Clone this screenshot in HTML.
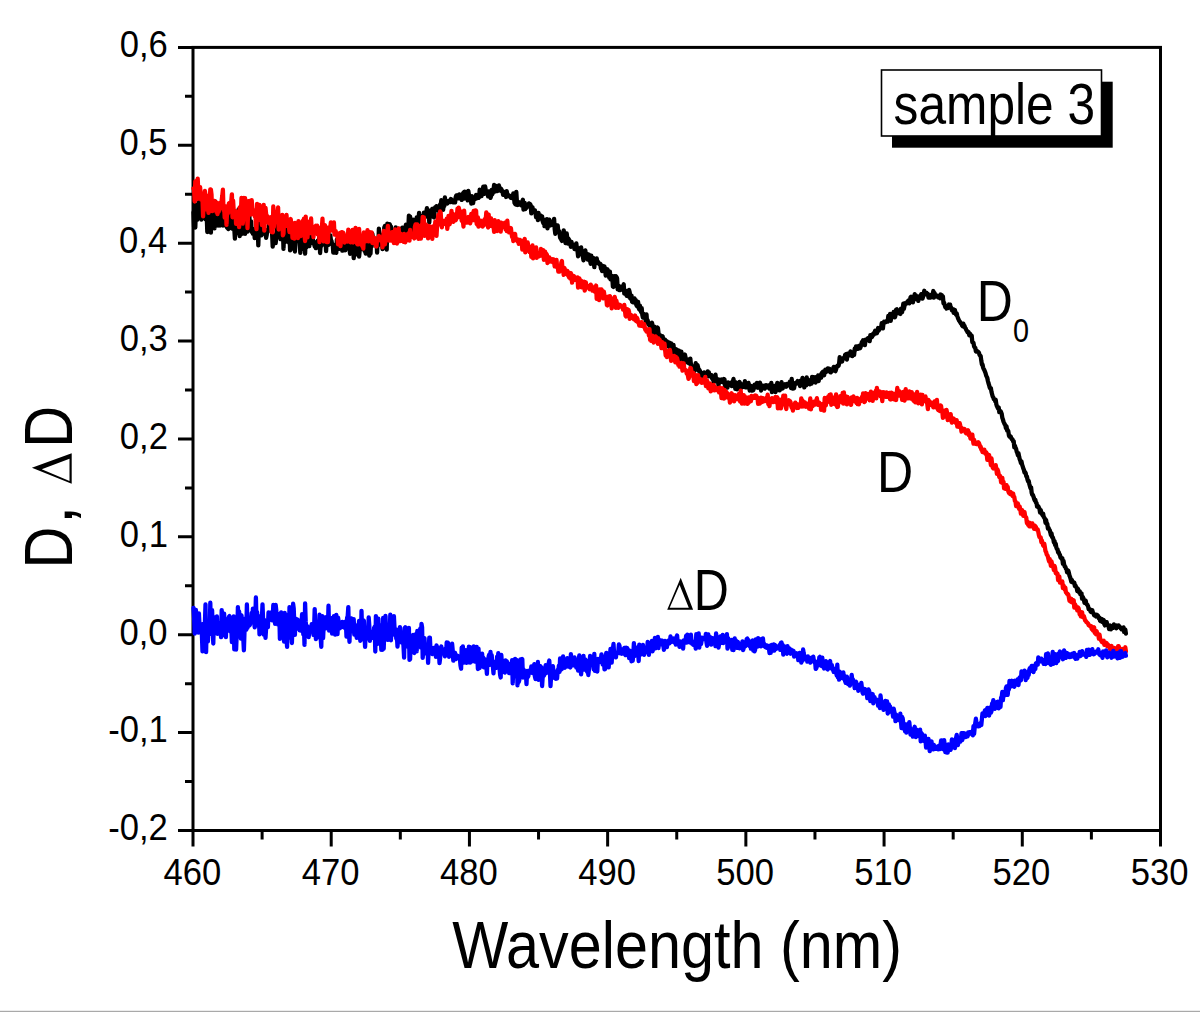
<!DOCTYPE html>
<html><head><meta charset="utf-8"><style>
html,body{margin:0;padding:0;background:#fff;}
body{width:1200px;height:1012px;overflow:hidden;position:relative;}
svg{position:absolute;left:0;top:0;}
text{font-family:"Liberation Sans",sans-serif;fill:#000;}
.bar{position:absolute;left:0;width:1200px;}
</style></head><body>
<svg width="1200" height="1012" viewBox="0 0 1200 1012">
<rect x="193.0" y="47.4" width="967.5" height="783.1" fill="none" stroke="#000" stroke-width="3"/>
<path d="M178.0,47.40H193.0 M185.0,96.34H193.0 M178.0,145.29H193.0 M185.0,194.23H193.0 M178.0,243.18H193.0 M185.0,292.12H193.0 M178.0,341.06H193.0 M185.0,390.01H193.0 M178.0,438.95H193.0 M185.0,487.89H193.0 M178.0,536.84H193.0 M185.0,585.78H193.0 M178.0,634.73H193.0 M185.0,683.67H193.0 M178.0,732.61H193.0 M185.0,781.56H193.0 M178.0,830.50H193.0 M193.00,830.5V846.5 M262.11,830.5V839.5 M331.21,830.5V846.5 M400.32,830.5V839.5 M469.43,830.5V846.5 M538.54,830.5V839.5 M607.64,830.5V846.5 M676.75,830.5V839.5 M745.86,830.5V846.5 M814.96,830.5V839.5 M884.07,830.5V846.5 M953.18,830.5V839.5 M1022.29,830.5V846.5 M1091.39,830.5V839.5 M1160.50,830.5V846.5" stroke="#000" stroke-width="3" fill="none"/>
<path d="M193.5,212.3 L194.1,227.5 L194.7,204.2 L195.3,227.5 L195.9,209.6 L196.5,211.7 L197.1,219.9 L197.7,211.8 L198.3,213.9 L198.9,196.5 L199.5,218.1 L200.1,214.2 L200.7,211.1 L201.3,219.5 L201.9,210.9 L202.5,213.6 L203.1,205.9 L203.7,213.1 L204.3,208.9 L204.9,210.7 L205.5,219.4 L206.1,211.4 L206.7,215.0 L207.3,232.0 L207.9,231.9 L208.5,219.4 L209.1,216.3 L209.7,212.2 L210.3,208.9 L210.9,232.7 L211.5,216.6 L212.1,207.3 L212.7,218.5 L213.3,221.9 L213.9,218.6 L214.5,228.4 L215.1,201.4 L215.7,217.8 L216.3,217.0 L216.9,204.8 L217.5,219.9 L218.1,225.6 L218.7,219.5 L219.3,214.3 L219.9,225.5 L220.5,218.7 L221.1,218.9 L221.7,223.3 L222.3,211.6 L222.9,225.5 L223.5,222.2 L224.1,224.8 L224.7,213.8 L225.3,225.5 L225.9,214.1 L226.5,209.1 L227.1,227.8 L227.7,228.2 L228.3,229.0 L228.9,220.4 L229.5,217.2 L230.1,205.4 L230.7,223.4 L231.3,225.1 L231.9,228.5 L232.5,218.7 L233.1,217.4 L233.7,224.6 L234.3,228.6 L234.9,238.7 L235.5,216.3 L236.1,223.5 L236.7,233.2 L237.3,223.3 L237.9,225.7 L238.5,209.5 L239.1,227.6 L239.7,236.1 L240.3,231.9 L240.9,234.5 L241.5,228.4 L242.1,222.3 L242.7,231.2 L243.3,222.0 L243.9,233.6 L244.5,215.5 L245.1,233.9 L245.7,221.6 L246.3,226.7 L246.9,226.0 L247.5,231.7 L248.1,223.2 L248.7,228.1 L249.3,214.8 L249.9,226.3 L250.5,229.1 L251.1,221.3 L251.7,231.9 L252.3,228.7 L252.9,233.7 L253.5,232.4 L254.1,229.6 L254.7,238.0 L255.3,232.3 L255.9,236.0 L256.5,228.5 L257.1,231.2 L257.7,225.5 L258.3,245.4 L258.9,226.9 L259.5,227.2 L260.1,220.3 L260.7,227.4 L261.3,235.3 L261.9,234.0 L262.5,223.7 L263.1,229.7 L263.7,230.4 L264.3,233.6 L264.9,231.0 L265.5,232.6 L266.1,237.8 L266.7,235.0 L267.3,230.0 L267.9,231.2 L268.5,230.2 L269.1,223.7 L269.7,227.1 L270.3,229.0 L270.9,229.7 L271.5,229.9 L272.1,233.4 L272.7,246.6 L273.3,237.1 L273.9,237.6 L274.5,237.0 L275.1,234.4 L275.7,243.0 L276.3,236.1 L276.9,233.7 L277.5,224.0 L278.1,233.9 L278.7,229.7 L279.3,227.3 L279.9,234.5 L280.5,239.1 L281.1,232.0 L281.7,239.0 L282.3,235.3 L282.9,228.9 L283.5,248.9 L284.1,234.4 L284.7,232.9 L285.3,242.0 L285.9,228.8 L286.5,239.4 L287.1,231.2 L287.7,235.2 L288.3,232.6 L288.9,242.6 L289.5,235.6 L290.1,250.3 L290.7,238.7 L291.3,239.9 L291.9,237.8 L292.5,235.3 L293.1,236.7 L293.7,248.9 L294.3,233.7 L294.9,251.5 L295.5,242.3 L296.1,237.2 L296.7,240.7 L297.3,237.8 L297.9,238.0 L298.5,239.6 L299.1,226.8 L299.7,239.8 L300.3,252.9 L300.9,237.5 L301.5,243.8 L302.1,240.0 L302.7,236.6 L303.3,248.9 L303.9,228.9 L304.5,239.0 L305.1,253.7 L305.7,238.7 L306.3,247.4 L306.9,243.2 L307.5,246.5 L308.1,243.8 L308.7,241.2 L309.3,246.1 L309.9,231.5 L310.5,242.5 L311.1,241.7 L311.7,242.8 L312.3,237.2 L312.9,239.6 L313.5,243.6 L314.1,241.9 L314.7,246.6 L315.3,244.0 L315.9,248.2 L316.5,245.5 L317.1,243.9 L317.7,240.8 L318.3,246.3 L318.9,240.3 L319.5,235.7 L320.1,253.0 L320.7,243.3 L321.3,246.0 L321.9,243.2 L322.5,243.9 L323.1,233.4 L323.7,239.4 L324.3,244.6 L324.9,243.5 L325.5,238.9 L326.1,251.2 L326.7,238.9 L327.3,243.1 L327.9,238.7 L328.5,244.9 L329.1,241.0 L329.7,238.6 L330.3,235.3 L330.9,240.1 L331.5,240.8 L332.1,244.4 L332.7,244.2 L333.3,252.6 L333.9,252.6 L334.5,248.3 L335.1,247.2 L335.7,249.7 L336.3,252.8 L336.9,239.3 L337.5,243.1 L338.1,246.7 L338.7,243.2 L339.3,248.9 L339.9,246.8 L340.5,246.9 L341.1,247.2 L341.7,244.1 L342.3,250.7 L342.9,249.8 L343.5,249.5 L344.1,241.1 L344.7,248.4 L345.3,250.3 L345.9,245.3 L346.5,248.1 L347.1,240.7 L347.7,243.2 L348.3,246.3 L348.9,248.4 L349.5,248.7 L350.1,253.8 L350.7,247.5 L351.3,240.3 L351.9,252.7 L352.5,241.9 L353.1,243.3 L353.7,258.2 L354.3,251.6 L354.9,247.7 L355.5,244.4 L356.1,248.2 L356.7,247.8 L357.3,254.3 L357.9,248.6 L358.5,242.4 L359.1,256.6 L359.7,250.4 L360.3,243.5 L360.9,243.0 L361.5,248.2 L362.1,241.5 L362.7,249.1 L363.3,248.6 L363.9,236.7 L364.5,250.8 L365.1,250.1 L365.7,253.7 L366.3,247.7 L366.9,247.7 L367.5,240.6 L368.1,233.8 L368.7,235.9 L369.3,255.7 L369.9,245.6 L370.5,253.7 L371.1,241.8 L371.7,246.3 L372.3,233.6 L372.9,237.4 L373.5,239.4 L374.1,242.3 L374.7,242.1 L375.3,241.2 L375.9,240.1 L376.5,241.3 L377.1,252.7 L377.7,239.5 L378.3,245.1 L378.9,228.6 L379.5,237.7 L380.1,239.3 L380.7,239.9 L381.3,234.9 L381.9,237.0 L382.5,249.1 L383.1,239.6 L383.7,238.6 L384.3,227.4 L384.9,226.1 L385.5,232.9 L386.1,230.6 L386.7,249.7 L387.3,223.7 L387.9,234.9 L388.5,225.7 L389.1,237.7 L389.7,224.2 L390.3,225.9 L390.9,226.5 L391.5,232.4 L392.1,236.1 L392.7,239.8 L393.3,231.8 L393.9,231.9 L394.5,239.7 L395.1,237.7 L395.7,227.4 L396.3,238.7 L396.9,239.3 L397.5,228.6 L398.1,235.0 L398.7,228.8 L399.3,229.6 L399.9,233.0 L400.5,233.0 L401.1,232.2 L401.7,232.6 L402.3,227.6 L402.9,235.6 L403.5,228.3 L404.1,239.6 L404.7,230.8 L405.3,227.9 L405.9,224.8 L406.5,229.6 L407.1,228.0 L407.7,230.5 L408.3,228.8 L408.9,215.7 L409.5,233.7 L410.1,216.7 L410.7,232.6 L411.3,231.7 L411.9,235.6 L412.5,227.7 L413.1,219.6 L413.7,224.1 L414.3,223.5 L414.9,225.1 L415.5,221.7 L416.1,224.7 L416.7,217.5 L417.3,219.7 L417.9,221.3 L418.5,219.6 L419.1,212.8 L419.7,232.1 L420.3,221.2 L420.9,223.8 L421.5,216.5 L422.1,228.0 L422.7,221.9 L423.3,228.7 L423.9,212.6 L424.5,216.1 L425.1,214.8 L425.7,216.6 L426.3,212.3 L426.9,208.2 L427.5,214.1 L428.1,215.1 L428.7,212.4 L429.3,222.5 L429.9,211.8 L430.5,210.4 L431.1,215.1 L431.7,211.1 L432.3,208.9 L432.9,208.7 L433.5,217.0 L434.1,217.4 L434.7,210.2 L435.3,207.2 L435.9,210.2 L436.5,206.2 L437.1,207.0 L437.7,208.1 L438.3,207.1 L438.9,206.6 L439.5,213.1 L440.1,204.5 L440.7,206.9 L441.3,200.2 L441.9,201.6 L442.5,202.8 L443.1,209.9 L443.7,205.0 L444.3,206.1 L444.9,197.5 L445.5,203.4 L446.1,202.1 L446.7,201.9 L447.3,203.5 L447.9,201.1 L448.5,202.2 L449.1,200.7 L449.7,201.5 L450.3,202.0 L450.9,199.0 L451.5,199.9 L452.1,200.6 L452.7,200.5 L453.3,202.4 L453.9,200.8 L454.5,200.0 L455.1,202.4 L455.7,197.1 L456.3,195.4 L456.9,198.0 L457.5,195.4 L458.1,198.2 L458.7,198.0 L459.3,194.4 L459.9,198.3 L460.5,197.0 L461.1,196.0 L461.7,199.9 L462.3,198.4 L462.9,193.5 L463.5,192.5 L464.1,198.5 L464.7,191.6 L465.3,195.8 L465.9,193.7 L466.5,194.5 L467.1,195.9 L467.7,200.4 L468.3,190.9 L468.9,194.6 L469.5,198.9 L470.1,197.5 L470.7,196.6 L471.3,203.5 L471.9,196.2 L472.5,198.7 L473.1,203.1 L473.7,198.9 L474.3,198.3 L474.9,198.3 L475.5,198.7 L476.1,194.8 L476.7,196.3 L477.3,197.2 L477.9,198.0 L478.5,197.9 L479.1,197.3 L479.7,189.6 L480.3,192.3 L480.9,192.6 L481.5,196.1 L482.1,192.2 L482.7,191.1 L483.3,186.6 L483.9,191.0 L484.5,193.9 L485.1,186.3 L485.7,189.8 L486.3,191.5 L486.9,192.9 L487.5,192.3 L488.1,196.4 L488.7,191.5 L489.3,194.0 L489.9,195.7 L490.5,197.9 L491.1,196.1 L491.7,189.8 L492.3,194.1 L492.9,192.6 L493.5,190.8 L494.1,185.0 L494.7,187.8 L495.3,191.5 L495.9,185.9 L496.5,188.7 L497.1,188.1 L497.7,191.0 L498.3,188.6 L498.9,185.4 L499.5,188.4 L500.1,188.1 L500.7,190.8 L501.3,189.0 L501.9,191.6 L502.5,191.2 L503.1,194.9 L503.7,193.4 L504.3,192.0 L504.9,192.8 L505.5,193.2 L506.1,197.0 L506.7,191.1 L507.3,194.2 L507.9,195.2 L508.5,195.1 L509.1,196.4 L509.7,196.3 L510.3,196.1 L510.9,197.8 L511.5,195.6 L512.1,197.3 L512.7,198.3 L513.3,193.4 L513.9,195.8 L514.5,202.7 L515.1,203.9 L515.7,204.5 L516.3,191.8 L516.9,201.7 L517.5,205.0 L518.1,204.5 L518.7,202.2 L519.3,202.5 L519.9,203.5 L520.5,202.8 L521.1,205.2 L521.7,203.4 L522.3,201.7 L522.9,199.7 L523.5,209.5 L524.1,207.2 L524.7,202.9 L525.3,209.1 L525.9,205.2 L526.5,207.9 L527.1,206.5 L527.7,205.6 L528.3,205.4 L528.9,203.4 L529.5,203.9 L530.1,204.1 L530.7,205.2 L531.3,213.4 L531.9,210.8 L532.5,207.4 L533.1,211.6 L533.7,212.1 L534.3,212.3 L534.9,210.2 L535.5,212.7 L536.1,217.2 L536.7,213.1 L537.3,214.2 L537.9,220.0 L538.5,212.9 L539.1,217.0 L539.7,215.7 L540.3,218.5 L540.9,215.6 L541.5,217.2 L542.1,216.5 L542.7,221.4 L543.3,223.1 L543.9,219.5 L544.5,226.2 L545.1,221.2 L545.7,222.9 L546.3,224.6 L546.9,219.1 L547.5,228.3 L548.1,220.9 L548.7,222.0 L549.3,219.7 L549.9,225.7 L550.5,222.2 L551.1,225.1 L551.7,221.9 L552.3,223.6 L552.9,224.3 L553.5,223.4 L554.1,218.9 L554.7,228.9 L555.3,233.8 L555.9,226.0 L556.5,225.8 L557.1,228.6 L557.7,225.4 L558.3,232.0 L558.9,230.9 L559.5,232.8 L560.1,237.8 L560.7,237.4 L561.3,239.7 L561.9,240.9 L562.5,236.6 L563.1,236.8 L563.7,230.3 L564.3,233.8 L564.9,239.0 L565.5,243.0 L566.1,239.7 L566.7,233.4 L567.3,238.6 L567.9,243.5 L568.5,238.7 L569.1,239.8 L569.7,241.3 L570.3,243.9 L570.9,246.8 L571.5,241.9 L572.1,245.2 L572.7,245.2 L573.3,245.2 L573.9,246.4 L574.5,249.1 L575.1,244.6 L575.7,247.3 L576.3,243.3 L576.9,248.3 L577.5,251.1 L578.1,256.3 L578.7,249.4 L579.3,248.6 L579.9,250.9 L580.5,250.1 L581.1,247.4 L581.7,252.0 L582.3,254.8 L582.9,256.9 L583.5,260.3 L584.1,252.8 L584.7,252.2 L585.3,250.4 L585.9,254.6 L586.5,258.0 L587.1,253.8 L587.7,259.6 L588.3,258.3 L588.9,254.7 L589.5,258.5 L590.1,260.8 L590.7,263.9 L591.3,255.6 L591.9,261.9 L592.5,261.6 L593.1,257.8 L593.7,258.7 L594.3,267.2 L594.9,260.0 L595.5,259.7 L596.1,263.2 L596.7,258.3 L597.3,262.2 L597.9,261.7 L598.5,263.2 L599.1,264.0 L599.7,264.6 L600.3,263.7 L600.9,268.5 L601.5,268.0 L602.1,271.1 L602.7,265.9 L603.3,268.6 L603.9,267.1 L604.5,266.6 L605.1,269.8 L605.7,275.6 L606.3,272.7 L606.9,269.2 L607.5,269.4 L608.1,274.6 L608.7,274.8 L609.3,277.7 L609.9,271.7 L610.5,279.4 L611.1,276.4 L611.7,276.0 L612.3,277.5 L612.9,286.5 L613.5,286.9 L614.1,276.1 L614.7,280.5 L615.3,284.2 L615.9,276.2 L616.5,277.0 L617.1,278.3 L617.7,289.4 L618.3,285.5 L618.9,286.1 L619.5,290.1 L620.1,286.7 L620.7,290.0 L621.3,287.6 L621.9,287.3 L622.5,288.3 L623.1,286.2 L623.7,284.3 L624.3,293.5 L624.9,293.7 L625.5,290.5 L626.1,292.8 L626.7,295.7 L627.3,292.3 L627.9,295.2 L628.5,296.4 L629.1,290.0 L629.7,292.3 L630.3,298.5 L630.9,298.8 L631.5,295.5 L632.1,301.8 L632.7,302.2 L633.3,299.6 L633.9,300.4 L634.5,298.4 L635.1,302.8 L635.7,300.1 L636.3,304.9 L636.9,306.2 L637.5,306.5 L638.1,302.0 L638.7,308.0 L639.3,309.6 L639.9,305.6 L640.5,309.7 L641.1,312.1 L641.7,308.2 L642.3,314.9 L642.9,317.6 L643.5,314.3 L644.1,317.3 L644.7,314.3 L645.3,317.7 L645.9,322.1 L646.5,314.3 L647.1,322.7 L647.7,320.3 L648.3,324.3 L648.9,323.8 L649.5,325.6 L650.1,324.0 L650.7,324.9 L651.3,329.4 L651.9,322.7 L652.5,324.8 L653.1,332.8 L653.7,331.8 L654.3,326.7 L654.9,334.7 L655.5,329.2 L656.1,334.0 L656.7,334.9 L657.3,327.4 L657.9,328.0 L658.5,332.9 L659.1,338.2 L659.7,336.7 L660.3,335.2 L660.9,338.8 L661.5,336.1 L662.1,337.0 L662.7,336.4 L663.3,343.8 L663.9,341.4 L664.5,340.1 L665.1,339.7 L665.7,346.6 L666.3,341.8 L666.9,341.2 L667.5,343.2 L668.1,345.3 L668.7,346.3 L669.3,342.5 L669.9,350.4 L670.5,347.6 L671.1,343.4 L671.7,350.2 L672.3,353.7 L672.9,351.6 L673.5,345.0 L674.1,350.6 L674.7,351.7 L675.3,354.9 L675.9,352.5 L676.5,349.3 L677.1,357.3 L677.7,358.3 L678.3,354.3 L678.9,350.5 L679.5,357.4 L680.1,357.0 L680.7,361.2 L681.3,351.6 L681.9,356.8 L682.5,356.5 L683.1,355.0 L683.7,359.7 L684.3,358.2 L684.9,354.5 L685.5,357.3 L686.1,362.1 L686.7,361.2 L687.3,359.6 L687.9,362.7 L688.5,359.6 L689.1,363.4 L689.7,363.8 L690.3,358.6 L690.9,364.2 L691.5,365.8 L692.1,366.6 L692.7,366.7 L693.3,369.0 L693.9,368.1 L694.5,370.8 L695.1,367.3 L695.7,363.2 L696.3,366.8 L696.9,368.2 L697.5,365.0 L698.1,367.3 L698.7,370.8 L699.3,369.9 L699.9,370.7 L700.5,373.6 L701.1,375.2 L701.7,375.8 L702.3,373.2 L702.9,375.4 L703.5,377.0 L704.1,372.5 L704.7,373.3 L705.3,376.0 L705.9,374.4 L706.5,374.0 L707.1,375.5 L707.7,371.3 L708.3,376.3 L708.9,372.3 L709.5,375.7 L710.1,375.7 L710.7,376.7 L711.3,375.1 L711.9,377.9 L712.5,379.2 L713.1,377.8 L713.7,382.5 L714.3,381.4 L714.9,378.3 L715.5,374.6 L716.1,381.2 L716.7,378.5 L717.3,379.3 L717.9,380.6 L718.5,385.4 L719.1,379.6 L719.7,380.6 L720.3,381.5 L720.9,381.9 L721.5,379.5 L722.1,381.8 L722.7,381.7 L723.3,382.4 L723.9,379.0 L724.5,379.3 L725.1,387.1 L725.7,384.2 L726.3,384.5 L726.9,386.5 L727.5,387.6 L728.1,382.4 L728.7,384.4 L729.3,383.8 L729.9,383.6 L730.5,384.3 L731.1,382.7 L731.7,386.1 L732.3,383.3 L732.9,381.5 L733.5,378.9 L734.1,384.6 L734.7,382.6 L735.3,388.9 L735.9,382.5 L736.5,383.5 L737.1,389.4 L737.7,384.6 L738.3,388.2 L738.9,386.3 L739.5,382.0 L740.1,383.3 L740.7,384.5 L741.3,387.8 L741.9,384.3 L742.5,385.1 L743.1,385.2 L743.7,384.6 L744.3,387.1 L744.9,381.2 L745.5,384.0 L746.1,387.5 L746.7,386.0 L747.3,385.5 L747.9,384.9 L748.5,382.9 L749.1,385.3 L749.7,390.5 L750.3,385.9 L750.9,385.8 L751.5,390.5 L752.1,388.3 L752.7,390.5 L753.3,390.1 L753.9,386.3 L754.5,384.6 L755.1,386.1 L755.7,384.8 L756.3,387.4 L756.9,383.0 L757.5,385.4 L758.1,387.7 L758.7,385.4 L759.3,386.1 L759.9,382.6 L760.5,384.8 L761.1,390.5 L761.7,386.7 L762.3,385.5 L762.9,386.3 L763.5,387.8 L764.1,388.0 L764.7,388.5 L765.3,385.5 L765.9,385.2 L766.5,387.4 L767.1,387.0 L767.7,387.2 L768.3,385.4 L768.9,386.3 L769.5,388.6 L770.1,386.7 L770.7,388.8 L771.3,382.9 L771.9,392.1 L772.5,385.8 L773.1,387.4 L773.7,390.9 L774.3,386.0 L774.9,385.7 L775.5,392.1 L776.1,390.2 L776.7,387.1 L777.3,382.8 L777.9,387.2 L778.5,385.4 L779.1,385.0 L779.7,390.4 L780.3,387.0 L780.9,386.1 L781.5,382.2 L782.1,385.5 L782.7,388.5 L783.3,384.9 L783.9,384.9 L784.5,386.1 L785.1,384.2 L785.7,385.6 L786.3,386.7 L786.9,384.0 L787.5,384.9 L788.1,385.2 L788.7,384.1 L789.3,383.1 L789.9,381.7 L790.5,384.6 L791.1,388.2 L791.7,379.0 L792.3,386.3 L792.9,388.6 L793.5,383.6 L794.1,388.3 L794.7,384.1 L795.3,383.1 L795.9,382.7 L796.5,382.6 L797.1,383.5 L797.7,381.0 L798.3,383.4 L798.9,382.2 L799.5,382.9 L800.1,386.1 L800.7,380.6 L801.3,381.7 L801.9,381.0 L802.5,377.9 L803.1,382.8 L803.7,382.9 L804.3,387.4 L804.9,382.9 L805.5,382.0 L806.1,385.5 L806.7,377.4 L807.3,381.3 L807.9,383.5 L808.5,380.0 L809.1,381.5 L809.7,384.3 L810.3,381.1 L810.9,379.9 L811.5,383.7 L812.1,376.8 L812.7,382.2 L813.3,378.5 L813.9,377.2 L814.5,378.4 L815.1,377.9 L815.7,382.5 L816.3,378.7 L816.9,376.9 L817.5,377.0 L818.1,375.6 L818.7,381.0 L819.3,375.4 L819.9,378.3 L820.5,375.6 L821.1,377.6 L821.7,373.0 L822.3,372.6 L822.9,371.8 L823.5,373.6 L824.1,375.3 L824.7,372.2 L825.3,369.8 L825.9,372.0 L826.5,371.3 L827.1,370.3 L827.7,368.4 L828.3,369.0 L828.9,371.3 L829.5,368.8 L830.1,370.8 L830.7,372.4 L831.3,371.6 L831.9,371.5 L832.5,370.1 L833.1,368.9 L833.7,366.9 L834.3,367.5 L834.9,370.6 L835.5,371.1 L836.1,369.3 L836.7,366.7 L837.3,366.0 L837.9,365.5 L838.5,365.9 L839.1,363.6 L839.7,357.2 L840.3,360.6 L840.9,358.4 L841.5,361.7 L842.1,361.5 L842.7,358.5 L843.3,358.8 L843.9,357.9 L844.5,358.3 L845.1,354.9 L845.7,354.4 L846.3,356.7 L846.9,359.6 L847.5,353.6 L848.1,355.0 L848.7,354.7 L849.3,353.8 L849.9,355.2 L850.5,351.3 L851.1,352.6 L851.7,352.3 L852.3,356.1 L852.9,352.4 L853.5,352.0 L854.1,355.0 L854.7,348.7 L855.3,350.0 L855.9,346.5 L856.5,346.5 L857.1,348.6 L857.7,348.8 L858.3,346.9 L858.9,345.9 L859.5,346.4 L860.1,348.3 L860.7,346.7 L861.3,344.4 L861.9,341.9 L862.5,343.1 L863.1,340.3 L863.7,344.1 L864.3,340.1 L864.9,345.2 L865.5,339.8 L866.1,339.4 L866.7,339.5 L867.3,339.9 L867.9,338.2 L868.5,338.1 L869.1,340.9 L869.7,341.1 L870.3,335.2 L870.9,336.3 L871.5,335.5 L872.1,336.9 L872.7,335.1 L873.3,333.4 L873.9,334.5 L874.5,333.0 L875.1,330.8 L875.7,333.2 L876.3,331.2 L876.9,333.2 L877.5,331.0 L878.1,328.0 L878.7,330.6 L879.3,329.3 L879.9,328.7 L880.5,327.6 L881.1,327.9 L881.7,323.2 L882.3,325.8 L882.9,328.4 L883.5,323.0 L884.1,321.7 L884.7,322.7 L885.3,322.4 L885.9,321.3 L886.5,321.1 L887.1,321.3 L887.7,321.5 L888.3,315.9 L888.9,318.6 L889.5,318.9 L890.1,313.8 L890.7,320.9 L891.3,317.3 L891.9,316.3 L892.5,315.8 L893.1,313.7 L893.7,312.0 L894.3,315.5 L894.9,317.3 L895.5,315.4 L896.1,309.6 L896.7,309.3 L897.3,312.9 L897.9,312.6 L898.5,312.1 L899.1,313.3 L899.7,313.0 L900.3,313.9 L900.9,308.7 L901.5,308.7 L902.1,312.1 L902.7,308.4 L903.3,303.7 L903.9,308.8 L904.5,305.9 L905.1,303.3 L905.7,303.5 L906.3,303.5 L906.9,303.0 L907.5,301.5 L908.1,302.0 L908.7,300.4 L909.3,303.4 L909.9,301.2 L910.5,297.4 L911.1,296.7 L911.7,300.7 L912.3,299.1 L912.9,302.4 L913.5,298.2 L914.1,296.7 L914.7,294.2 L915.3,299.1 L915.9,295.3 L916.5,298.3 L917.1,298.0 L917.7,298.7 L918.3,300.9 L918.9,296.5 L919.5,297.5 L920.1,298.4 L920.7,295.7 L921.3,294.1 L921.9,294.3 L922.5,298.6 L923.1,296.6 L923.7,293.6 L924.3,290.8 L924.9,294.5 L925.5,293.5 L926.1,293.1 L926.7,293.0 L927.3,294.4 L927.9,294.0 L928.5,297.7 L929.1,295.0 L929.7,297.2 L930.3,297.6 L930.9,297.2 L931.5,294.8 L932.1,295.0 L932.7,294.8 L933.3,291.0 L933.9,297.7 L934.5,292.9 L935.1,294.7 L935.7,295.4 L936.3,296.2 L936.9,295.4 L937.5,296.0 L938.1,297.2 L938.7,296.4 L939.3,296.8 L939.9,298.2 L940.5,294.5 L941.1,297.8 L941.7,295.0 L942.3,297.6 L942.9,296.5 L943.5,303.2 L944.1,302.8 L944.7,305.2 L945.3,307.1 L945.9,306.7 L946.5,308.5 L947.1,306.2 L947.7,306.9 L948.3,307.9 L948.9,304.5 L949.5,306.4 L950.1,304.6 L950.7,307.6 L951.3,307.6 L951.9,310.3 L952.5,309.7 L953.1,309.3 L953.7,312.8 L954.3,311.9 L954.9,310.0 L955.5,313.3 L956.1,314.8 L956.7,313.5 L957.3,316.0 L957.9,318.0 L958.5,319.2 L959.1,320.7 L959.7,321.4 L960.3,322.4 L960.9,323.4 L961.5,323.8 L962.1,325.5 L962.7,326.3 L963.3,323.6 L963.9,325.7 L964.5,325.9 L965.1,327.8 L965.7,328.4 L966.3,330.1 L966.9,330.7 L967.5,332.2 L968.1,331.9 L968.7,332.3 L969.3,335.3 L969.9,333.7 L970.5,334.7 L971.1,336.1 L971.7,335.7 L972.3,342.1 L972.9,342.3 L973.5,343.0 L974.1,346.4 L974.7,347.4 L975.3,347.9 L975.9,351.4 L976.5,351.6 L977.1,351.0 L977.7,351.9 L978.3,351.9 L978.9,352.6 L979.5,354.8 L980.1,355.5 L980.7,356.2 L981.3,360.7 L981.9,364.5 L982.5,364.4 L983.1,367.5 L983.7,369.0 L984.3,369.9 L984.9,371.5 L985.5,373.0 L986.1,375.3 L986.7,376.7 L987.3,378.0 L987.9,381.0 L988.5,383.3 L989.1,385.1 L989.7,387.6 L990.3,388.5 L990.9,388.3 L991.5,392.0 L992.1,394.3 L992.7,396.5 L993.3,397.4 L993.9,399.2 L994.5,399.2 L995.1,401.1 L995.7,399.8 L996.3,404.1 L996.9,406.1 L997.5,407.3 L998.1,408.6 L998.7,407.5 L999.3,412.2 L999.9,410.9 L1000.5,411.2 L1001.1,412.2 L1001.7,413.7 L1002.3,417.7 L1002.9,419.4 L1003.5,421.6 L1004.1,422.9 L1004.7,424.3 L1005.3,424.9 L1005.9,428.2 L1006.5,426.2 L1007.1,430.4 L1007.7,430.1 L1008.3,431.3 L1008.9,435.3 L1009.5,436.7 L1010.1,436.6 L1010.7,436.4 L1011.3,438.3 L1011.9,439.2 L1012.5,439.4 L1013.1,441.3 L1013.7,441.1 L1014.3,447.4 L1014.9,445.7 L1015.5,447.8 L1016.1,448.9 L1016.7,451.6 L1017.3,453.0 L1017.9,455.2 L1018.5,453.4 L1019.1,456.6 L1019.7,459.2 L1020.3,460.6 L1020.9,463.0 L1021.5,461.6 L1022.1,464.6 L1022.7,466.4 L1023.3,468.4 L1023.9,469.8 L1024.5,472.5 L1025.1,472.1 L1025.7,473.2 L1026.3,476.3 L1026.9,476.5 L1027.5,479.5 L1028.1,481.3 L1028.7,480.9 L1029.3,484.0 L1029.9,486.1 L1030.5,488.2 L1031.1,487.5 L1031.7,492.9 L1032.3,494.7 L1032.9,495.0 L1033.5,496.7 L1034.1,498.7 L1034.7,500.4 L1035.3,499.8 L1035.9,502.5 L1036.5,502.8 L1037.1,506.6 L1037.7,506.9 L1038.3,506.4 L1038.9,507.5 L1039.5,508.9 L1040.1,512.6 L1040.7,510.0 L1041.3,512.4 L1041.9,513.8 L1042.5,515.1 L1043.1,513.7 L1043.7,517.0 L1044.3,517.8 L1044.9,518.7 L1045.5,522.8 L1046.1,520.2 L1046.7,523.8 L1047.3,523.9 L1047.9,528.5 L1048.5,527.8 L1049.1,529.2 L1049.7,530.1 L1050.3,532.4 L1050.9,535.1 L1051.5,533.4 L1052.1,537.2 L1052.7,537.1 L1053.3,539.0 L1053.9,542.5 L1054.5,540.9 L1055.1,544.9 L1055.7,543.7 L1056.3,547.4 L1056.9,549.1 L1057.5,549.1 L1058.1,552.5 L1058.7,552.1 L1059.3,554.2 L1059.9,554.8 L1060.5,557.6 L1061.1,557.5 L1061.7,558.9 L1062.3,558.3 L1062.9,563.8 L1063.5,560.9 L1064.1,564.3 L1064.7,566.4 L1065.3,566.8 L1065.9,568.6 L1066.5,569.3 L1067.1,572.3 L1067.7,570.9 L1068.3,570.7 L1068.9,572.9 L1069.5,575.7 L1070.1,577.1 L1070.7,579.2 L1071.3,581.7 L1071.9,580.0 L1072.5,582.2 L1073.1,581.9 L1073.7,582.7 L1074.3,582.6 L1074.9,586.2 L1075.5,585.4 L1076.1,587.0 L1076.7,587.7 L1077.3,591.1 L1077.9,588.8 L1078.5,590.5 L1079.1,592.2 L1079.7,591.3 L1080.3,594.2 L1080.9,594.2 L1081.5,593.5 L1082.1,598.7 L1082.7,596.9 L1083.3,598.0 L1083.9,599.9 L1084.5,602.7 L1085.1,600.4 L1085.7,600.8 L1086.3,603.7 L1086.9,604.5 L1087.5,605.0 L1088.1,606.4 L1088.7,609.2 L1089.3,609.2 L1089.9,609.2 L1090.5,611.4 L1091.1,612.1 L1091.7,611.8 L1092.3,610.3 L1092.9,612.5 L1093.5,613.3 L1094.1,615.2 L1094.7,614.5 L1095.3,615.4 L1095.9,616.4 L1096.5,614.7 L1097.1,615.0 L1097.7,615.3 L1098.3,617.0 L1098.9,618.6 L1099.5,617.6 L1100.1,620.8 L1100.7,621.2 L1101.3,621.3 L1101.9,619.1 L1102.5,622.1 L1103.1,621.0 L1103.7,620.1 L1104.3,624.1 L1104.9,625.4 L1105.5,621.8 L1106.1,624.7 L1106.7,622.2 L1107.3,625.2 L1107.9,625.7 L1108.5,625.9 L1109.1,629.0 L1109.7,626.7 L1110.3,625.6 L1110.9,629.3 L1111.5,626.3 L1112.1,626.9 L1112.7,626.5 L1113.3,627.8 L1113.9,624.4 L1114.5,626.1 L1115.1,626.2 L1115.7,626.6 L1116.3,628.3 L1116.9,625.5 L1117.5,625.6 L1118.1,626.6 L1118.7,625.4 L1119.3,627.0 L1119.9,626.9 L1120.5,628.2 L1121.1,628.6 L1121.7,629.4 L1122.3,629.2 L1122.9,629.1 L1123.5,627.4 L1124.1,631.9 L1124.7,631.3 L1125.3,629.6 L1125.9,633.5" stroke="#000" stroke-width="4.3" fill="none" stroke-linejoin="round" stroke-linecap="round"/>
<path d="M193.5,188.5 L194.1,189.8 L194.7,201.5 L195.3,181.3 L195.9,196.1 L196.5,199.3 L197.1,187.5 L197.7,178.6 L198.3,190.9 L198.9,198.5 L199.5,196.9 L200.1,187.2 L200.7,195.3 L201.3,199.6 L201.9,195.6 L202.5,199.3 L203.1,216.3 L203.7,200.8 L204.3,196.0 L204.9,190.9 L205.5,195.6 L206.1,198.6 L206.7,209.6 L207.3,204.7 L207.9,196.0 L208.5,212.8 L209.1,199.2 L209.7,203.3 L210.3,189.3 L210.9,189.5 L211.5,194.4 L212.1,211.2 L212.7,204.4 L213.3,209.9 L213.9,204.3 L214.5,200.8 L215.1,202.8 L215.7,204.3 L216.3,211.9 L216.9,202.6 L217.5,214.1 L218.1,205.8 L218.7,211.6 L219.3,204.6 L219.9,208.2 L220.5,202.7 L221.1,205.9 L221.7,200.3 L222.3,195.6 L222.9,189.7 L223.5,210.1 L224.1,206.5 L224.7,217.6 L225.3,214.8 L225.9,206.3 L226.5,224.9 L227.1,209.8 L227.7,213.7 L228.3,207.8 L228.9,203.5 L229.5,203.0 L230.1,203.7 L230.7,211.6 L231.3,201.0 L231.9,194.3 L232.5,217.3 L233.1,200.7 L233.7,210.1 L234.3,210.7 L234.9,212.7 L235.5,211.1 L236.1,223.8 L236.7,215.5 L237.3,212.4 L237.9,213.2 L238.5,211.8 L239.1,227.2 L239.7,207.3 L240.3,214.8 L240.9,212.9 L241.5,197.9 L242.1,209.4 L242.7,223.7 L243.3,217.5 L243.9,197.9 L244.5,209.9 L245.1,198.2 L245.7,219.2 L246.3,204.7 L246.9,201.2 L247.5,228.1 L248.1,213.0 L248.7,211.2 L249.3,201.0 L249.9,212.6 L250.5,212.4 L251.1,214.5 L251.7,200.1 L252.3,207.8 L252.9,209.8 L253.5,214.0 L254.1,212.1 L254.7,216.3 L255.3,212.0 L255.9,224.5 L256.5,229.2 L257.1,203.9 L257.7,210.8 L258.3,216.4 L258.9,220.0 L259.5,204.9 L260.1,210.7 L260.7,215.7 L261.3,218.5 L261.9,225.1 L262.5,223.6 L263.1,221.3 L263.7,204.8 L264.3,230.6 L264.9,218.4 L265.5,207.8 L266.1,213.7 L266.7,218.8 L267.3,216.1 L267.9,217.0 L268.5,222.6 L269.1,223.3 L269.7,218.5 L270.3,222.7 L270.9,217.2 L271.5,232.0 L272.1,219.9 L272.7,232.4 L273.3,206.5 L273.9,226.8 L274.5,220.2 L275.1,222.6 L275.7,215.0 L276.3,220.6 L276.9,217.5 L277.5,212.5 L278.1,207.4 L278.7,229.5 L279.3,223.2 L279.9,216.8 L280.5,218.2 L281.1,221.4 L281.7,227.0 L282.3,214.8 L282.9,235.4 L283.5,233.5 L284.1,219.1 L284.7,224.6 L285.3,221.5 L285.9,225.8 L286.5,214.8 L287.1,223.4 L287.7,224.9 L288.3,225.6 L288.9,226.7 L289.5,232.1 L290.1,221.1 L290.7,219.0 L291.3,223.8 L291.9,225.9 L292.5,237.8 L293.1,228.2 L293.7,228.9 L294.3,238.6 L294.9,222.9 L295.5,223.0 L296.1,225.5 L296.7,223.9 L297.3,228.4 L297.9,238.1 L298.5,221.2 L299.1,227.3 L299.7,229.4 L300.3,227.4 L300.9,236.0 L301.5,230.8 L302.1,234.8 L302.7,220.9 L303.3,223.8 L303.9,218.7 L304.5,233.6 L305.1,241.0 L305.7,216.6 L306.3,233.1 L306.9,232.0 L307.5,237.3 L308.1,226.6 L308.7,232.3 L309.3,226.3 L309.9,221.2 L310.5,233.2 L311.1,218.5 L311.7,232.4 L312.3,227.4 L312.9,230.0 L313.5,237.2 L314.1,226.8 L314.7,229.9 L315.3,228.6 L315.9,225.8 L316.5,230.0 L317.1,225.6 L317.7,234.4 L318.3,231.5 L318.9,227.7 L319.5,242.1 L320.1,228.7 L320.7,232.3 L321.3,233.2 L321.9,227.6 L322.5,218.7 L323.1,237.4 L323.7,241.4 L324.3,225.7 L324.9,225.2 L325.5,229.9 L326.1,231.5 L326.7,242.1 L327.3,242.1 L327.9,242.1 L328.5,227.5 L329.1,231.6 L329.7,230.1 L330.3,227.5 L330.9,222.3 L331.5,226.8 L332.1,230.5 L332.7,224.7 L333.3,227.4 L333.9,222.4 L334.5,234.6 L335.1,233.7 L335.7,231.0 L336.3,234.7 L336.9,234.1 L337.5,236.9 L338.1,244.4 L338.7,234.4 L339.3,237.8 L339.9,233.0 L340.5,246.2 L341.1,238.2 L341.7,232.1 L342.3,234.4 L342.9,232.5 L343.5,233.2 L344.1,235.7 L344.7,242.6 L345.3,237.8 L345.9,235.8 L346.5,237.7 L347.1,235.9 L347.7,241.6 L348.3,229.6 L348.9,236.8 L349.5,237.4 L350.1,235.0 L350.7,242.3 L351.3,235.0 L351.9,237.2 L352.5,229.8 L353.1,242.5 L353.7,238.0 L354.3,241.0 L354.9,235.6 L355.5,227.8 L356.1,237.3 L356.7,242.8 L357.3,244.2 L357.9,237.6 L358.5,244.4 L359.1,229.0 L359.7,239.3 L360.3,236.2 L360.9,238.5 L361.5,235.5 L362.1,245.8 L362.7,236.8 L363.3,248.7 L363.9,232.3 L364.5,238.3 L365.1,238.4 L365.7,241.3 L366.3,237.2 L366.9,238.8 L367.5,230.2 L368.1,236.7 L368.7,241.4 L369.3,231.9 L369.9,238.4 L370.5,235.4 L371.1,233.8 L371.7,232.5 L372.3,243.0 L372.9,240.7 L373.5,237.4 L374.1,237.5 L374.7,241.3 L375.3,239.6 L375.9,246.4 L376.5,246.5 L377.1,238.3 L377.7,240.0 L378.3,238.6 L378.9,235.9 L379.5,237.4 L380.1,240.2 L380.7,238.0 L381.3,238.7 L381.9,237.1 L382.5,247.4 L383.1,240.4 L383.7,230.8 L384.3,240.9 L384.9,244.3 L385.5,240.6 L386.1,234.4 L386.7,234.5 L387.3,232.6 L387.9,225.9 L388.5,235.2 L389.1,240.6 L389.7,238.5 L390.3,236.8 L390.9,240.6 L391.5,237.2 L392.1,232.2 L392.7,240.1 L393.3,234.9 L393.9,243.1 L394.5,234.8 L395.1,229.5 L395.7,239.8 L396.3,230.6 L396.9,243.5 L397.5,237.0 L398.1,241.7 L398.7,228.5 L399.3,239.2 L399.9,241.1 L400.5,233.6 L401.1,240.9 L401.7,234.7 L402.3,238.4 L402.9,239.6 L403.5,241.7 L404.1,234.0 L404.7,234.9 L405.3,242.3 L405.9,240.6 L406.5,237.1 L407.1,234.4 L407.7,238.4 L408.3,235.4 L408.9,233.0 L409.5,240.6 L410.1,229.9 L410.7,237.5 L411.3,234.1 L411.9,233.9 L412.5,233.9 L413.1,234.4 L413.7,237.1 L414.3,238.4 L414.9,226.8 L415.5,224.4 L416.1,235.7 L416.7,224.3 L417.3,224.3 L417.9,231.8 L418.5,238.9 L419.1,232.4 L419.7,227.2 L420.3,225.9 L420.9,238.7 L421.5,230.4 L422.1,229.1 L422.7,216.9 L423.3,224.3 L423.9,217.5 L424.5,235.9 L425.1,225.8 L425.7,224.5 L426.3,229.8 L426.9,225.3 L427.5,229.4 L428.1,238.4 L428.7,234.3 L429.3,226.1 L429.9,236.2 L430.5,228.0 L431.1,229.0 L431.7,226.9 L432.3,238.8 L432.9,226.5 L433.5,230.8 L434.1,229.2 L434.7,229.9 L435.3,221.6 L435.9,227.0 L436.5,235.8 L437.1,225.6 L437.7,220.7 L438.3,215.0 L438.9,221.0 L439.5,224.2 L440.1,211.5 L440.7,212.9 L441.3,223.1 L441.9,227.3 L442.5,222.0 L443.1,223.9 L443.7,220.9 L444.3,221.5 L444.9,223.8 L445.5,220.8 L446.1,222.9 L446.7,218.7 L447.3,228.8 L447.9,223.2 L448.5,215.9 L449.1,218.0 L449.7,224.3 L450.3,219.3 L450.9,217.7 L451.5,210.9 L452.1,220.4 L452.7,219.1 L453.3,221.9 L453.9,214.3 L454.5,219.6 L455.1,220.4 L455.7,220.2 L456.3,218.8 L456.9,216.0 L457.5,208.7 L458.1,217.2 L458.7,207.6 L459.3,210.1 L459.9,214.9 L460.5,211.4 L461.1,216.1 L461.7,220.7 L462.3,214.0 L462.9,220.7 L463.5,226.5 L464.1,210.6 L464.7,218.7 L465.3,221.2 L465.9,221.5 L466.5,217.8 L467.1,222.7 L467.7,218.8 L468.3,217.0 L468.9,220.0 L469.5,220.7 L470.1,223.4 L470.7,220.9 L471.3,213.8 L471.9,219.5 L472.5,217.6 L473.1,220.1 L473.7,210.8 L474.3,219.0 L474.9,220.2 L475.5,210.4 L476.1,210.8 L476.7,223.8 L477.3,224.5 L477.9,217.3 L478.5,226.6 L479.1,221.0 L479.7,222.3 L480.3,222.1 L480.9,220.7 L481.5,225.8 L482.1,221.8 L482.7,226.5 L483.3,221.0 L483.9,225.3 L484.5,219.4 L485.1,218.9 L485.7,219.9 L486.3,212.4 L486.9,222.5 L487.5,217.1 L488.1,227.5 L488.7,214.6 L489.3,223.6 L489.9,224.6 L490.5,223.0 L491.1,218.3 L491.7,226.1 L492.3,222.4 L492.9,222.4 L493.5,225.6 L494.1,231.9 L494.7,220.2 L495.3,224.7 L495.9,226.5 L496.5,224.0 L497.1,231.1 L497.7,226.7 L498.3,221.1 L498.9,223.3 L499.5,223.4 L500.1,226.7 L500.7,231.6 L501.3,222.6 L501.9,223.3 L502.5,224.1 L503.1,226.8 L503.7,225.8 L504.3,225.6 L504.9,222.6 L505.5,229.3 L506.1,226.8 L506.7,231.0 L507.3,220.7 L507.9,228.1 L508.5,228.0 L509.1,232.4 L509.7,231.1 L510.3,230.5 L510.9,228.0 L511.5,233.0 L512.1,236.8 L512.7,235.5 L513.3,241.1 L513.9,235.2 L514.5,234.1 L515.1,233.9 L515.7,239.4 L516.3,240.2 L516.9,239.1 L517.5,241.3 L518.1,239.6 L518.7,243.8 L519.3,242.5 L519.9,239.9 L520.5,242.9 L521.1,244.0 L521.7,240.9 L522.3,249.6 L522.9,247.0 L523.5,241.5 L524.1,243.2 L524.7,238.8 L525.3,252.3 L525.9,244.1 L526.5,250.5 L527.1,248.0 L527.7,242.5 L528.3,246.6 L528.9,247.7 L529.5,252.0 L530.1,249.6 L530.7,247.1 L531.3,256.9 L531.9,251.0 L532.5,245.5 L533.1,258.3 L533.7,252.5 L534.3,251.1 L534.9,248.2 L535.5,253.1 L536.1,247.4 L536.7,257.9 L537.3,254.2 L537.9,253.9 L538.5,254.7 L539.1,256.3 L539.7,252.7 L540.3,255.7 L540.9,249.0 L541.5,254.7 L542.1,255.5 L542.7,251.6 L543.3,250.3 L543.9,259.8 L544.5,259.6 L545.1,251.6 L545.7,256.8 L546.3,253.9 L546.9,254.7 L547.5,263.0 L548.1,259.2 L548.7,260.5 L549.3,257.4 L549.9,261.6 L550.5,261.0 L551.1,259.3 L551.7,260.8 L552.3,259.3 L552.9,262.3 L553.5,259.4 L554.1,262.3 L554.7,266.4 L555.3,264.4 L555.9,264.4 L556.5,260.0 L557.1,267.3 L557.7,265.6 L558.3,271.5 L558.9,271.2 L559.5,271.5 L560.1,266.6 L560.7,269.0 L561.3,262.8 L561.9,261.0 L562.5,270.3 L563.1,269.6 L563.7,274.9 L564.3,267.8 L564.9,269.5 L565.5,272.3 L566.1,271.1 L566.7,274.2 L567.3,270.8 L567.9,275.2 L568.5,276.0 L569.1,277.5 L569.7,272.8 L570.3,278.6 L570.9,273.2 L571.5,275.6 L572.1,282.7 L572.7,277.0 L573.3,277.1 L573.9,276.1 L574.5,277.6 L575.1,278.0 L575.7,279.8 L576.3,279.3 L576.9,278.3 L577.5,277.4 L578.1,287.6 L578.7,281.7 L579.3,278.4 L579.9,280.7 L580.5,283.1 L581.1,280.5 L581.7,287.3 L582.3,283.7 L582.9,285.1 L583.5,285.3 L584.1,281.6 L584.7,290.6 L585.3,288.7 L585.9,282.5 L586.5,286.8 L587.1,286.9 L587.7,285.9 L588.3,286.8 L588.9,286.2 L589.5,289.2 L590.1,288.3 L590.7,284.6 L591.3,287.1 L591.9,286.3 L592.5,290.7 L593.1,290.4 L593.7,289.7 L594.3,291.0 L594.9,291.8 L595.5,289.0 L596.1,285.5 L596.7,298.9 L597.3,289.4 L597.9,290.4 L598.5,294.2 L599.1,300.1 L599.7,289.4 L600.3,293.0 L600.9,297.3 L601.5,289.4 L602.1,292.8 L602.7,295.8 L603.3,298.4 L603.9,291.7 L604.5,295.9 L605.1,297.4 L605.7,297.5 L606.3,297.9 L606.9,305.0 L607.5,305.4 L608.1,296.7 L608.7,297.6 L609.3,299.2 L609.9,296.1 L610.5,297.5 L611.1,301.5 L611.7,308.3 L612.3,300.6 L612.9,300.1 L613.5,303.5 L614.1,301.9 L614.7,297.0 L615.3,299.7 L615.9,307.9 L616.5,300.9 L617.1,306.0 L617.7,305.1 L618.3,307.9 L618.9,306.4 L619.5,304.8 L620.1,305.0 L620.7,305.6 L621.3,306.0 L621.9,306.6 L622.5,307.4 L623.1,309.6 L623.7,309.6 L624.3,304.9 L624.9,309.8 L625.5,315.6 L626.1,316.4 L626.7,310.6 L627.3,309.3 L627.9,311.3 L628.5,309.9 L629.1,312.0 L629.7,318.8 L630.3,318.1 L630.9,314.9 L631.5,315.9 L632.1,317.4 L632.7,317.9 L633.3,318.3 L633.9,319.2 L634.5,318.6 L635.1,315.5 L635.7,320.5 L636.3,321.0 L636.9,317.9 L637.5,319.0 L638.1,322.7 L638.7,321.9 L639.3,325.6 L639.9,322.4 L640.5,325.5 L641.1,325.8 L641.7,322.1 L642.3,325.0 L642.9,326.2 L643.5,326.5 L644.1,324.1 L644.7,327.1 L645.3,329.8 L645.9,328.3 L646.5,331.7 L647.1,331.1 L647.7,332.0 L648.3,330.6 L648.9,335.4 L649.5,329.2 L650.1,339.8 L650.7,335.4 L651.3,340.9 L651.9,336.3 L652.5,335.7 L653.1,336.3 L653.7,342.5 L654.3,338.3 L654.9,338.1 L655.5,336.4 L656.1,336.9 L656.7,339.9 L657.3,340.6 L657.9,343.8 L658.5,338.5 L659.1,342.3 L659.7,339.8 L660.3,341.9 L660.9,344.1 L661.5,348.2 L662.1,342.1 L662.7,343.4 L663.3,348.0 L663.9,347.5 L664.5,343.7 L665.1,349.8 L665.7,355.5 L666.3,351.6 L666.9,357.1 L667.5,353.0 L668.1,351.0 L668.7,355.0 L669.3,353.7 L669.9,349.8 L670.5,353.9 L671.1,360.9 L671.7,356.9 L672.3,355.9 L672.9,358.7 L673.5,359.1 L674.1,355.8 L674.7,359.1 L675.3,362.3 L675.9,357.0 L676.5,361.4 L677.1,358.2 L677.7,360.9 L678.3,364.8 L678.9,362.7 L679.5,366.7 L680.1,366.2 L680.7,366.1 L681.3,362.9 L681.9,366.3 L682.5,370.6 L683.1,368.5 L683.7,363.4 L684.3,368.9 L684.9,369.3 L685.5,370.0 L686.1,370.2 L686.7,373.7 L687.3,372.0 L687.9,375.5 L688.5,378.9 L689.1,377.5 L689.7,375.9 L690.3,367.9 L690.9,368.2 L691.5,372.3 L692.1,375.4 L692.7,374.4 L693.3,372.7 L693.9,381.1 L694.5,376.3 L695.1,374.7 L695.7,377.4 L696.3,384.1 L696.9,379.5 L697.5,383.0 L698.1,375.1 L698.7,380.6 L699.3,378.4 L699.9,378.9 L700.5,379.8 L701.1,380.1 L701.7,382.8 L702.3,379.7 L702.9,381.1 L703.5,381.3 L704.1,382.7 L704.7,382.6 L705.3,376.8 L705.9,386.0 L706.5,384.2 L707.1,380.7 L707.7,384.0 L708.3,388.3 L708.9,388.2 L709.5,384.4 L710.1,383.5 L710.7,391.4 L711.3,387.5 L711.9,387.3 L712.5,386.1 L713.1,390.2 L713.7,384.9 L714.3,390.3 L714.9,390.2 L715.5,388.4 L716.1,387.8 L716.7,390.1 L717.3,388.6 L717.9,389.1 L718.5,388.4 L719.1,392.3 L719.7,387.7 L720.3,390.9 L720.9,390.9 L721.5,398.0 L722.1,388.1 L722.7,392.6 L723.3,390.5 L723.9,398.6 L724.5,389.8 L725.1,397.9 L725.7,394.7 L726.3,391.8 L726.9,394.0 L727.5,393.3 L728.1,395.0 L728.7,398.1 L729.3,395.7 L729.9,402.6 L730.5,400.7 L731.1,394.5 L731.7,393.3 L732.3,397.7 L732.9,395.8 L733.5,395.1 L734.1,401.4 L734.7,397.1 L735.3,395.2 L735.9,397.1 L736.5,397.1 L737.1,399.1 L737.7,396.4 L738.3,396.9 L738.9,394.0 L739.5,399.9 L740.1,401.5 L740.7,390.6 L741.3,398.8 L741.9,403.5 L742.5,400.2 L743.1,399.4 L743.7,395.1 L744.3,403.6 L744.9,396.5 L745.5,400.4 L746.1,399.4 L746.7,398.0 L747.3,403.9 L747.9,403.6 L748.5,397.3 L749.1,397.5 L749.7,401.8 L750.3,397.5 L750.9,401.2 L751.5,396.0 L752.1,396.3 L752.7,397.4 L753.3,396.9 L753.9,397.9 L754.5,396.2 L755.1,395.5 L755.7,397.7 L756.3,395.8 L756.9,397.5 L757.5,397.9 L758.1,403.9 L758.7,398.2 L759.3,399.3 L759.9,403.6 L760.5,398.8 L761.1,397.7 L761.7,399.7 L762.3,402.0 L762.9,398.1 L763.5,401.3 L764.1,399.7 L764.7,400.1 L765.3,400.9 L765.9,400.0 L766.5,397.8 L767.1,398.5 L767.7,394.7 L768.3,404.2 L768.9,401.7 L769.5,406.1 L770.1,399.9 L770.7,401.4 L771.3,401.6 L771.9,398.2 L772.5,401.7 L773.1,402.1 L773.7,401.2 L774.3,400.7 L774.9,399.8 L775.5,397.0 L776.1,402.3 L776.7,399.4 L777.3,397.3 L777.9,408.3 L778.5,405.6 L779.1,401.1 L779.7,401.8 L780.3,399.8 L780.9,408.4 L781.5,400.7 L782.1,404.8 L782.7,403.7 L783.3,395.6 L783.9,395.6 L784.5,401.7 L785.1,395.6 L785.7,406.8 L786.3,409.0 L786.9,403.4 L787.5,401.8 L788.1,401.1 L788.7,400.3 L789.3,404.1 L789.9,401.1 L790.5,402.1 L791.1,405.7 L791.7,407.7 L792.3,405.2 L792.9,410.6 L793.5,407.2 L794.1,404.5 L794.7,404.1 L795.3,402.6 L795.9,407.1 L796.5,404.7 L797.1,408.0 L797.7,404.4 L798.3,407.8 L798.9,405.7 L799.5,404.5 L800.1,405.6 L800.7,405.6 L801.3,398.3 L801.9,406.6 L802.5,400.5 L803.1,404.5 L803.7,404.3 L804.3,406.3 L804.9,402.4 L805.5,405.8 L806.1,406.7 L806.7,403.7 L807.3,405.2 L807.9,404.3 L808.5,406.6 L809.1,408.5 L809.7,405.0 L810.3,398.5 L810.9,409.4 L811.5,405.2 L812.1,402.1 L812.7,406.0 L813.3,404.1 L813.9,401.6 L814.5,403.2 L815.1,404.6 L815.7,402.9 L816.3,400.6 L816.9,398.2 L817.5,402.9 L818.1,404.9 L818.7,402.3 L819.3,402.7 L819.9,405.3 L820.5,404.0 L821.1,409.8 L821.7,406.2 L822.3,408.9 L822.9,403.9 L823.5,406.0 L824.1,410.7 L824.7,398.0 L825.3,404.1 L825.9,405.3 L826.5,401.2 L827.1,397.8 L827.7,402.1 L828.3,396.5 L828.9,398.1 L829.5,394.8 L830.1,401.6 L830.7,394.4 L831.3,404.8 L831.9,400.7 L832.5,400.0 L833.1,397.6 L833.7,400.1 L834.3,399.2 L834.9,404.2 L835.5,400.9 L836.1,394.3 L836.7,405.8 L837.3,407.0 L837.9,406.9 L838.5,398.8 L839.1,400.2 L839.7,401.5 L840.3,396.2 L840.9,399.3 L841.5,398.5 L842.1,402.5 L842.7,392.8 L843.3,403.7 L843.9,392.4 L844.5,403.3 L845.1,398.3 L845.7,396.3 L846.3,397.7 L846.9,404.3 L847.5,396.9 L848.1,401.9 L848.7,403.3 L849.3,398.5 L849.9,400.4 L850.5,400.1 L851.1,404.9 L851.7,397.4 L852.3,399.1 L852.9,400.7 L853.5,396.5 L854.1,398.0 L854.7,401.4 L855.3,400.4 L855.9,399.9 L856.5,403.0 L857.1,397.9 L857.7,404.2 L858.3,398.8 L858.9,404.3 L859.5,401.5 L860.1,401.4 L860.7,399.9 L861.3,400.7 L861.9,396.9 L862.5,399.1 L863.1,393.3 L863.7,397.2 L864.3,402.1 L864.9,401.5 L865.5,393.2 L866.1,398.9 L866.7,395.4 L867.3,394.4 L867.9,394.0 L868.5,394.4 L869.1,394.3 L869.7,400.3 L870.3,396.3 L870.9,391.7 L871.5,396.5 L872.1,395.0 L872.7,400.9 L873.3,393.1 L873.9,396.1 L874.5,394.6 L875.1,392.5 L875.7,390.9 L876.3,398.3 L876.9,387.9 L877.5,392.6 L878.1,394.1 L878.7,392.8 L879.3,394.3 L879.9,391.5 L880.5,396.2 L881.1,394.8 L881.7,395.4 L882.3,401.1 L882.9,392.2 L883.5,394.9 L884.1,392.4 L884.7,394.1 L885.3,395.4 L885.9,396.9 L886.5,392.3 L887.1,396.9 L887.7,395.7 L888.3,393.7 L888.9,397.0 L889.5,392.8 L890.1,399.4 L890.7,399.5 L891.3,392.7 L891.9,399.2 L892.5,395.2 L893.1,393.5 L893.7,394.0 L894.3,395.7 L894.9,399.7 L895.5,397.8 L896.1,400.0 L896.7,393.6 L897.3,388.0 L897.9,391.5 L898.5,394.2 L899.1,391.1 L899.7,395.6 L900.3,392.0 L900.9,394.3 L901.5,394.3 L902.1,399.8 L902.7,395.3 L903.3,391.8 L903.9,397.3 L904.5,400.6 L905.1,396.9 L905.7,389.1 L906.3,398.5 L906.9,393.6 L907.5,398.3 L908.1,398.4 L908.7,397.0 L909.3,391.3 L909.9,395.2 L910.5,392.9 L911.1,398.7 L911.7,392.1 L912.3,397.1 L912.9,399.4 L913.5,400.7 L914.1,398.1 L914.7,394.4 L915.3,402.4 L915.9,397.4 L916.5,398.5 L917.1,391.9 L917.7,396.9 L918.3,403.3 L918.9,399.4 L919.5,399.1 L920.1,397.9 L920.7,394.7 L921.3,396.2 L921.9,404.3 L922.5,395.0 L923.1,400.0 L923.7,398.6 L924.3,401.2 L924.9,396.9 L925.5,396.6 L926.1,401.2 L926.7,399.9 L927.3,404.2 L927.9,409.0 L928.5,400.0 L929.1,402.0 L929.7,401.6 L930.3,403.9 L930.9,402.5 L931.5,405.0 L932.1,403.6 L932.7,404.3 L933.3,407.3 L933.9,407.3 L934.5,401.5 L935.1,402.5 L935.7,405.2 L936.3,405.4 L936.9,399.8 L937.5,408.6 L938.1,409.9 L938.7,408.1 L939.3,405.7 L939.9,411.1 L940.5,405.4 L941.1,405.9 L941.7,411.6 L942.3,411.3 L942.9,417.8 L943.5,410.9 L944.1,410.7 L944.7,412.4 L945.3,416.6 L945.9,415.3 L946.5,409.8 L947.1,412.8 L947.7,420.2 L948.3,416.7 L948.9,416.7 L949.5,414.4 L950.1,416.8 L950.7,414.2 L951.3,420.9 L951.9,422.6 L952.5,419.9 L953.1,421.6 L953.7,418.5 L954.3,420.1 L954.9,421.9 L955.5,422.6 L956.1,422.8 L956.7,420.1 L957.3,426.6 L957.9,422.7 L958.5,425.0 L959.1,426.8 L959.7,423.1 L960.3,425.8 L960.9,427.1 L961.5,431.6 L962.1,429.1 L962.7,428.8 L963.3,430.6 L963.9,430.6 L964.5,429.0 L965.1,430.8 L965.7,432.8 L966.3,433.3 L966.9,432.7 L967.5,432.2 L968.1,430.2 L968.7,434.9 L969.3,432.7 L969.9,435.3 L970.5,438.6 L971.1,437.7 L971.7,437.4 L972.3,434.6 L972.9,439.7 L973.5,443.7 L974.1,439.9 L974.7,443.3 L975.3,442.4 L975.9,444.0 L976.5,444.1 L977.1,442.9 L977.7,444.1 L978.3,442.2 L978.9,443.0 L979.5,444.8 L980.1,447.0 L980.7,446.6 L981.3,449.7 L981.9,449.2 L982.5,452.1 L983.1,451.6 L983.7,450.9 L984.3,449.7 L984.9,452.8 L985.5,453.7 L986.1,452.3 L986.7,453.5 L987.3,459.9 L987.9,458.5 L988.5,457.4 L989.1,455.0 L989.7,458.7 L990.3,460.6 L990.9,465.0 L991.5,458.5 L992.1,463.8 L992.7,467.4 L993.3,468.4 L993.9,466.0 L994.5,467.9 L995.1,468.4 L995.7,465.1 L996.3,468.9 L996.9,473.8 L997.5,469.5 L998.1,471.2 L998.7,474.2 L999.3,477.0 L999.9,475.7 L1000.5,477.7 L1001.1,482.3 L1001.7,481.6 L1002.3,477.8 L1002.9,483.2 L1003.5,481.8 L1004.1,488.3 L1004.7,486.5 L1005.3,488.8 L1005.9,487.2 L1006.5,485.1 L1007.1,487.5 L1007.7,487.0 L1008.3,491.2 L1008.9,492.9 L1009.5,491.6 L1010.1,494.0 L1010.7,492.1 L1011.3,493.8 L1011.9,494.6 L1012.5,495.9 L1013.1,493.5 L1013.7,496.7 L1014.3,497.1 L1014.9,500.8 L1015.5,501.4 L1016.1,506.1 L1016.7,504.1 L1017.3,503.5 L1017.9,503.5 L1018.5,507.2 L1019.1,508.9 L1019.7,506.6 L1020.3,509.3 L1020.9,513.6 L1021.5,513.4 L1022.1,510.0 L1022.7,512.9 L1023.3,515.8 L1023.9,515.1 L1024.5,512.1 L1025.1,516.1 L1025.7,516.8 L1026.3,517.9 L1026.9,523.0 L1027.5,521.7 L1028.1,524.8 L1028.7,523.4 L1029.3,526.2 L1029.9,522.8 L1030.5,526.3 L1031.1,524.0 L1031.7,525.6 L1032.3,523.4 L1032.9,526.9 L1033.5,525.1 L1034.1,528.8 L1034.7,525.5 L1035.3,526.3 L1035.9,527.0 L1036.5,529.4 L1037.1,529.8 L1037.7,529.5 L1038.3,531.9 L1038.9,535.1 L1039.5,537.0 L1040.1,537.4 L1040.7,537.4 L1041.3,542.0 L1041.9,540.6 L1042.5,543.3 L1043.1,545.2 L1043.7,546.1 L1044.3,543.9 L1044.9,547.3 L1045.5,551.1 L1046.1,552.0 L1046.7,554.6 L1047.3,555.2 L1047.9,556.6 L1048.5,559.4 L1049.1,561.3 L1049.7,559.1 L1050.3,562.5 L1050.9,565.8 L1051.5,561.5 L1052.1,564.5 L1052.7,566.0 L1053.3,567.3 L1053.9,570.1 L1054.5,565.9 L1055.1,567.9 L1055.7,573.0 L1056.3,572.3 L1056.9,574.2 L1057.5,573.8 L1058.1,580.1 L1058.7,577.9 L1059.3,576.4 L1059.9,582.6 L1060.5,581.8 L1061.1,581.8 L1061.7,581.6 L1062.3,581.5 L1062.9,588.1 L1063.5,585.4 L1064.1,587.2 L1064.7,589.5 L1065.3,587.6 L1065.9,592.2 L1066.5,592.8 L1067.1,593.8 L1067.7,593.9 L1068.3,594.6 L1068.9,597.4 L1069.5,600.9 L1070.1,598.6 L1070.7,601.7 L1071.3,598.8 L1071.9,602.4 L1072.5,601.2 L1073.1,602.3 L1073.7,600.3 L1074.3,607.6 L1074.9,604.0 L1075.5,605.4 L1076.1,606.8 L1076.7,608.0 L1077.3,610.4 L1077.9,607.4 L1078.5,608.1 L1079.1,610.5 L1079.7,614.4 L1080.3,614.8 L1080.9,616.4 L1081.5,615.0 L1082.1,612.3 L1082.7,617.0 L1083.3,616.6 L1083.9,616.3 L1084.5,618.2 L1085.1,620.5 L1085.7,620.7 L1086.3,622.0 L1086.9,622.3 L1087.5,622.9 L1088.1,623.5 L1088.7,625.2 L1089.3,625.5 L1089.9,626.2 L1090.5,625.9 L1091.1,626.0 L1091.7,629.0 L1092.3,629.0 L1092.9,630.4 L1093.5,629.5 L1094.1,627.3 L1094.7,632.8 L1095.3,631.0 L1095.9,634.2 L1096.5,631.0 L1097.1,632.6 L1097.7,633.7 L1098.3,634.8 L1098.9,638.7 L1099.5,634.6 L1100.1,638.3 L1100.7,639.9 L1101.3,640.7 L1101.9,642.0 L1102.5,642.3 L1103.1,641.2 L1103.7,640.8 L1104.3,644.8 L1104.9,643.3 L1105.5,642.7 L1106.1,643.9 L1106.7,643.1 L1107.3,646.4 L1107.9,644.5 L1108.5,646.3 L1109.1,646.1 L1109.7,647.0 L1110.3,649.8 L1110.9,647.4 L1111.5,646.0 L1112.1,648.8 L1112.7,647.8 L1113.3,647.9 L1113.9,650.4 L1114.5,648.0 L1115.1,648.4 L1115.7,649.1 L1116.3,650.5 L1116.9,650.6 L1117.5,649.2 L1118.1,646.1 L1118.7,646.2 L1119.3,647.8 L1119.9,653.6 L1120.5,649.9 L1121.1,650.2 L1121.7,651.0 L1122.3,650.4 L1122.9,648.9 L1123.5,651.3 L1124.1,649.3 L1124.7,650.3 L1125.3,647.3 L1125.9,651.4" stroke="#f00" stroke-width="4.3" fill="none" stroke-linejoin="round" stroke-linecap="round"/>
<path d="M193.5,607.8 L194.1,617.6 L194.7,633.5 L195.3,626.9 L195.9,609.9 L196.5,624.5 L197.1,625.7 L197.7,615.8 L198.3,632.6 L198.9,613.3 L199.5,625.1 L200.1,628.0 L200.7,626.6 L201.3,630.0 L201.9,634.6 L202.5,651.4 L203.1,624.0 L203.7,632.4 L204.3,633.5 L204.9,623.7 L205.5,604.5 L206.1,652.2 L206.7,623.2 L207.3,623.4 L207.9,641.5 L208.5,629.0 L209.1,626.5 L209.7,634.0 L210.3,602.7 L210.9,631.2 L211.5,623.4 L212.1,610.2 L212.7,629.1 L213.3,643.5 L213.9,617.1 L214.5,627.6 L215.1,619.9 L215.7,630.4 L216.3,629.5 L216.9,616.5 L217.5,633.9 L218.1,627.6 L218.7,628.3 L219.3,633.5 L219.9,622.9 L220.5,631.0 L221.1,637.2 L221.7,610.1 L222.3,635.4 L222.9,622.4 L223.5,624.3 L224.1,613.6 L224.7,629.3 L225.3,620.0 L225.9,637.1 L226.5,619.6 L227.1,626.2 L227.7,623.1 L228.3,627.4 L228.9,616.8 L229.5,616.1 L230.1,631.4 L230.7,631.7 L231.3,626.9 L231.9,642.2 L232.5,617.9 L233.1,636.7 L233.7,616.4 L234.3,649.4 L234.9,628.8 L235.5,628.6 L236.1,649.7 L236.7,634.3 L237.3,634.5 L237.9,607.1 L238.5,624.3 L239.1,611.4 L239.7,618.8 L240.3,619.9 L240.9,638.7 L241.5,615.5 L242.1,623.1 L242.7,627.8 L243.3,638.6 L243.9,650.3 L244.5,631.5 L245.1,618.7 L245.7,626.4 L246.3,629.7 L246.9,604.5 L247.5,627.7 L248.1,620.5 L248.7,624.3 L249.3,625.6 L249.9,625.0 L250.5,621.6 L251.1,622.1 L251.7,612.9 L252.3,620.8 L252.9,608.7 L253.5,620.3 L254.1,621.2 L254.7,627.3 L255.3,618.2 L255.9,597.5 L256.5,620.5 L257.1,612.2 L257.7,625.5 L258.3,617.5 L258.9,617.2 L259.5,634.3 L260.1,617.2 L260.7,616.1 L261.3,616.0 L261.9,618.6 L262.5,604.4 L263.1,619.6 L263.7,634.6 L264.3,619.8 L264.9,624.3 L265.5,637.9 L266.1,628.4 L266.7,624.2 L267.3,626.9 L267.9,627.1 L268.5,612.5 L269.1,618.0 L269.7,615.0 L270.3,612.6 L270.9,619.5 L271.5,614.2 L272.1,620.4 L272.7,619.5 L273.3,605.0 L273.9,617.6 L274.5,616.9 L275.1,623.9 L275.7,604.9 L276.3,610.8 L276.9,620.6 L277.5,618.9 L278.1,624.5 L278.7,618.0 L279.3,613.9 L279.9,638.9 L280.5,616.3 L281.1,612.4 L281.7,618.2 L282.3,620.2 L282.9,617.0 L283.5,624.7 L284.1,641.7 L284.7,612.8 L285.3,623.0 L285.9,628.2 L286.5,637.3 L287.1,646.9 L287.7,614.9 L288.3,626.1 L288.9,637.7 L289.5,607.1 L290.1,627.6 L290.7,617.0 L291.3,632.1 L291.9,643.0 L292.5,626.2 L293.1,603.7 L293.7,608.2 L294.3,623.6 L294.9,634.9 L295.5,618.7 L296.1,628.2 L296.7,622.9 L297.3,619.3 L297.9,628.7 L298.5,620.3 L299.1,621.7 L299.7,630.3 L300.3,623.8 L300.9,630.7 L301.5,623.9 L302.1,614.2 L302.7,622.4 L303.3,634.4 L303.9,624.7 L304.5,644.9 L305.1,603.3 L305.7,621.4 L306.3,631.0 L306.9,628.8 L307.5,626.4 L308.1,628.8 L308.7,637.0 L309.3,629.9 L309.9,627.4 L310.5,627.9 L311.1,630.4 L311.7,624.1 L312.3,631.0 L312.9,630.1 L313.5,634.9 L314.1,628.4 L314.7,609.1 L315.3,629.9 L315.9,639.1 L316.5,632.4 L317.1,632.4 L317.7,627.6 L318.3,626.7 L318.9,633.2 L319.5,614.7 L320.1,638.1 L320.7,638.3 L321.3,646.8 L321.9,617.8 L322.5,616.3 L323.1,638.1 L323.7,624.9 L324.3,621.7 L324.9,623.9 L325.5,628.3 L326.1,617.2 L326.7,624.8 L327.3,627.4 L327.9,628.5 L328.5,605.7 L329.1,630.6 L329.7,622.5 L330.3,622.4 L330.9,624.3 L331.5,619.4 L332.1,633.7 L332.7,617.6 L333.3,624.1 L333.9,616.1 L334.5,625.4 L335.1,634.7 L335.7,633.5 L336.3,614.8 L336.9,625.7 L337.5,634.1 L338.1,617.7 L338.7,622.6 L339.3,627.6 L339.9,628.2 L340.5,623.3 L341.1,626.1 L341.7,626.7 L342.3,621.8 L342.9,626.5 L343.5,625.2 L344.1,627.5 L344.7,624.4 L345.3,621.6 L345.9,623.3 L346.5,636.7 L347.1,617.8 L347.7,616.3 L348.3,607.1 L348.9,632.6 L349.5,641.8 L350.1,619.5 L350.7,620.3 L351.3,618.4 L351.9,626.1 L352.5,624.5 L353.1,631.5 L353.7,619.1 L354.3,634.6 L354.9,624.9 L355.5,632.1 L356.1,632.2 L356.7,637.8 L357.3,626.5 L357.9,628.4 L358.5,627.9 L359.1,620.8 L359.7,627.6 L360.3,640.8 L360.9,639.6 L361.5,610.8 L362.1,631.3 L362.7,626.0 L363.3,620.4 L363.9,620.8 L364.5,635.7 L365.1,646.9 L365.7,630.5 L366.3,628.7 L366.9,630.9 L367.5,638.3 L368.1,635.8 L368.7,617.4 L369.3,625.8 L369.9,640.9 L370.5,631.9 L371.1,634.8 L371.7,638.0 L372.3,634.8 L372.9,637.1 L373.5,633.7 L374.1,627.9 L374.7,626.7 L375.3,651.5 L375.9,616.1 L376.5,637.4 L377.1,644.1 L377.7,629.2 L378.3,618.7 L378.9,633.4 L379.5,632.3 L380.1,634.7 L380.7,634.0 L381.3,649.8 L381.9,625.0 L382.5,649.8 L383.1,618.0 L383.7,648.8 L384.3,631.4 L384.9,638.3 L385.5,616.0 L386.1,633.0 L386.7,636.7 L387.3,635.5 L387.9,639.9 L388.5,625.0 L389.1,631.5 L389.7,634.7 L390.3,614.7 L390.9,640.3 L391.5,631.2 L392.1,627.4 L392.7,626.5 L393.3,634.5 L393.9,616.1 L394.5,627.9 L395.1,629.9 L395.7,629.2 L396.3,638.6 L396.9,636.1 L397.5,646.7 L398.1,639.2 L398.7,632.3 L399.3,633.4 L399.9,627.1 L400.5,632.3 L401.1,639.5 L401.7,642.6 L402.3,635.0 L402.9,636.5 L403.5,646.2 L404.1,657.6 L404.7,628.0 L405.3,627.2 L405.9,646.6 L406.5,641.8 L407.1,640.8 L407.7,644.1 L408.3,647.0 L408.9,627.9 L409.5,659.9 L410.1,659.2 L410.7,640.3 L411.3,641.1 L411.9,637.2 L412.5,642.8 L413.1,635.0 L413.7,641.8 L414.3,653.0 L414.9,641.3 L415.5,648.7 L416.1,633.8 L416.7,651.4 L417.3,631.0 L417.9,634.8 L418.5,645.0 L419.1,637.2 L419.7,630.5 L420.3,628.5 L420.9,647.6 L421.5,623.8 L422.1,627.4 L422.7,657.9 L423.3,648.9 L423.9,641.8 L424.5,638.0 L425.1,653.3 L425.7,650.7 L426.3,648.3 L426.9,646.6 L427.5,647.0 L428.1,662.8 L428.7,647.9 L429.3,637.6 L429.9,637.6 L430.5,650.3 L431.1,653.1 L431.7,651.7 L432.3,654.1 L432.9,648.1 L433.5,649.7 L434.1,648.0 L434.7,649.9 L435.3,648.2 L435.9,656.9 L436.5,645.5 L437.1,647.3 L437.7,654.2 L438.3,650.5 L438.9,649.9 L439.5,663.2 L440.1,658.5 L440.7,648.0 L441.3,646.6 L441.9,651.7 L442.5,652.5 L443.1,650.2 L443.7,652.7 L444.3,653.8 L444.9,656.3 L445.5,648.7 L446.1,653.5 L446.7,642.4 L447.3,643.1 L447.9,642.7 L448.5,646.3 L449.1,656.8 L449.7,652.0 L450.3,653.6 L450.9,653.4 L451.5,650.2 L452.1,643.7 L452.7,650.1 L453.3,660.7 L453.9,653.5 L454.5,654.7 L455.1,652.9 L455.7,659.1 L456.3,658.7 L456.9,655.4 L457.5,656.9 L458.1,656.1 L458.7,658.1 L459.3,658.6 L459.9,658.7 L460.5,665.5 L461.1,668.7 L461.7,647.6 L462.3,656.9 L462.9,646.5 L463.5,656.9 L464.1,662.5 L464.7,660.3 L465.3,658.9 L465.9,650.2 L466.5,662.9 L467.1,659.6 L467.7,656.1 L468.3,662.4 L468.9,646.6 L469.5,653.9 L470.1,662.6 L470.7,647.4 L471.3,652.4 L471.9,658.6 L472.5,661.2 L473.1,659.6 L473.7,646.5 L474.3,656.1 L474.9,661.5 L475.5,657.4 L476.1,654.8 L476.7,647.0 L477.3,656.4 L477.9,669.0 L478.5,648.7 L479.1,660.4 L479.7,668.1 L480.3,662.5 L480.9,657.4 L481.5,662.0 L482.1,653.6 L482.7,660.5 L483.3,657.6 L483.9,667.4 L484.5,667.2 L485.1,664.6 L485.7,659.7 L486.3,665.6 L486.9,673.9 L487.5,660.0 L488.1,661.9 L488.7,656.3 L489.3,654.5 L489.9,664.9 L490.5,651.9 L491.1,663.4 L491.7,655.2 L492.3,664.6 L492.9,666.2 L493.5,673.3 L494.1,661.8 L494.7,662.0 L495.3,662.2 L495.9,666.1 L496.5,667.8 L497.1,656.6 L497.7,661.8 L498.3,653.2 L498.9,660.5 L499.5,667.5 L500.1,674.8 L500.7,677.5 L501.3,654.9 L501.9,663.9 L502.5,671.9 L503.1,665.3 L503.7,663.7 L504.3,670.0 L504.9,672.6 L505.5,660.4 L506.1,667.0 L506.7,661.1 L507.3,662.5 L507.9,668.2 L508.5,664.8 L509.1,673.2 L509.7,667.3 L510.3,664.1 L510.9,671.0 L511.5,666.6 L512.1,660.2 L512.7,683.4 L513.3,665.9 L513.9,664.5 L514.5,671.3 L515.1,658.9 L515.7,676.4 L516.3,663.1 L516.9,660.1 L517.5,685.4 L518.1,672.7 L518.7,682.0 L519.3,680.1 L519.9,675.3 L520.5,659.3 L521.1,673.7 L521.7,661.9 L522.3,659.0 L522.9,677.5 L523.5,669.3 L524.1,675.0 L524.7,671.8 L525.3,675.6 L525.9,672.9 L526.5,684.1 L527.1,670.9 L527.7,677.1 L528.3,676.1 L528.9,671.8 L529.5,670.8 L530.1,670.0 L530.7,672.6 L531.3,666.4 L531.9,670.5 L532.5,673.0 L533.1,669.1 L533.7,667.5 L534.3,664.1 L534.9,676.6 L535.5,679.0 L536.1,677.7 L536.7,675.0 L537.3,673.7 L537.9,662.0 L538.5,679.9 L539.1,672.7 L539.7,675.4 L540.3,666.2 L540.9,676.8 L541.5,667.5 L542.1,686.0 L542.7,676.6 L543.3,674.3 L543.9,675.8 L544.5,670.0 L545.1,673.8 L545.7,665.1 L546.3,670.8 L546.9,670.9 L547.5,668.1 L548.1,672.6 L548.7,663.2 L549.3,660.5 L549.9,671.3 L550.5,686.2 L551.1,676.2 L551.7,672.4 L552.3,668.6 L552.9,666.1 L553.5,672.1 L554.1,674.8 L554.7,678.1 L555.3,672.4 L555.9,678.8 L556.5,677.5 L557.1,678.4 L557.7,670.0 L558.3,671.3 L558.9,665.6 L559.5,671.8 L560.1,658.3 L560.7,669.8 L561.3,664.3 L561.9,669.1 L562.5,664.2 L563.1,656.5 L563.7,667.3 L564.3,667.0 L564.9,667.7 L565.5,660.9 L566.1,666.5 L566.7,664.0 L567.3,658.2 L567.9,664.6 L568.5,666.6 L569.1,662.6 L569.7,666.4 L570.3,667.4 L570.9,654.1 L571.5,661.0 L572.1,662.1 L572.7,665.2 L573.3,664.4 L573.9,665.1 L574.5,657.3 L575.1,662.6 L575.7,660.5 L576.3,667.6 L576.9,666.8 L577.5,663.2 L578.1,670.6 L578.7,660.3 L579.3,655.4 L579.9,664.4 L580.5,667.2 L581.1,674.3 L581.7,665.8 L582.3,660.9 L582.9,666.8 L583.5,655.9 L584.1,669.7 L584.7,664.0 L585.3,659.5 L585.9,660.8 L586.5,669.5 L587.1,671.7 L587.7,661.3 L588.3,675.0 L588.9,669.8 L589.5,663.1 L590.1,655.9 L590.7,659.9 L591.3,663.9 L591.9,660.8 L592.5,660.3 L593.1,661.7 L593.7,669.3 L594.3,653.8 L594.9,670.8 L595.5,663.1 L596.1,665.9 L596.7,663.4 L597.3,671.5 L597.9,658.8 L598.5,659.8 L599.1,662.2 L599.7,661.9 L600.3,659.9 L600.9,659.3 L601.5,654.3 L602.1,660.6 L602.7,664.5 L603.3,665.1 L603.9,659.0 L604.5,669.4 L605.1,669.1 L605.7,657.1 L606.3,652.9 L606.9,662.5 L607.5,666.2 L608.1,659.0 L608.7,667.4 L609.3,656.9 L609.9,656.9 L610.5,648.9 L611.1,654.7 L611.7,662.6 L612.3,648.8 L612.9,649.4 L613.5,643.9 L614.1,653.4 L614.7,653.8 L615.3,652.7 L615.9,657.4 L616.5,653.2 L617.1,652.6 L617.7,652.4 L618.3,651.7 L618.9,644.4 L619.5,645.6 L620.1,653.3 L620.7,648.8 L621.3,651.6 L621.9,653.7 L622.5,653.4 L623.1,649.9 L623.7,650.3 L624.3,647.9 L624.9,654.3 L625.5,655.0 L626.1,647.7 L626.7,650.5 L627.3,648.2 L627.9,653.9 L628.5,650.9 L629.1,658.1 L629.7,650.6 L630.3,654.3 L630.9,654.3 L631.5,661.4 L632.1,655.4 L632.7,660.9 L633.3,653.9 L633.9,643.2 L634.5,651.6 L635.1,655.8 L635.7,651.8 L636.3,654.7 L636.9,647.6 L637.5,654.3 L638.1,651.7 L638.7,661.0 L639.3,644.7 L639.9,650.7 L640.5,654.6 L641.1,650.5 L641.7,650.8 L642.3,649.4 L642.9,644.8 L643.5,648.8 L644.1,654.8 L644.7,652.4 L645.3,648.0 L645.9,650.6 L646.5,651.8 L647.1,651.6 L647.7,641.9 L648.3,644.9 L648.9,654.8 L649.5,645.8 L650.1,649.4 L650.7,647.6 L651.3,650.2 L651.9,641.0 L652.5,651.3 L653.1,649.2 L653.7,643.2 L654.3,646.6 L654.9,637.8 L655.5,648.4 L656.1,644.1 L656.7,646.3 L657.3,646.8 L657.9,637.0 L658.5,648.0 L659.1,639.6 L659.7,640.5 L660.3,643.3 L660.9,641.6 L661.5,644.2 L662.1,640.5 L662.7,643.8 L663.3,644.9 L663.9,649.8 L664.5,641.9 L665.1,640.9 L665.7,642.7 L666.3,643.1 L666.9,647.1 L667.5,642.5 L668.1,641.6 L668.7,640.5 L669.3,643.5 L669.9,642.7 L670.5,636.5 L671.1,640.4 L671.7,638.7 L672.3,641.7 L672.9,640.9 L673.5,638.5 L674.1,641.8 L674.7,642.6 L675.3,640.5 L675.9,644.6 L676.5,637.1 L677.1,635.5 L677.7,642.9 L678.3,641.8 L678.9,643.3 L679.5,646.9 L680.1,641.4 L680.7,644.1 L681.3,642.3 L681.9,641.5 L682.5,641.4 L683.1,648.6 L683.7,640.5 L684.3,641.1 L684.9,641.4 L685.5,642.5 L686.1,635.8 L686.7,642.6 L687.3,634.6 L687.9,641.0 L688.5,641.4 L689.1,642.2 L689.7,642.2 L690.3,642.5 L690.9,634.7 L691.5,640.8 L692.1,643.7 L692.7,641.5 L693.3,644.9 L693.9,642.1 L694.5,642.1 L695.1,642.8 L695.7,648.6 L696.3,634.1 L696.9,637.2 L697.5,636.2 L698.1,638.4 L698.7,633.5 L699.3,647.7 L699.9,637.1 L700.5,640.1 L701.1,644.0 L701.7,639.8 L702.3,637.8 L702.9,638.2 L703.5,639.0 L704.1,638.0 L704.7,639.0 L705.3,638.5 L705.9,633.9 L706.5,642.5 L707.1,645.9 L707.7,639.2 L708.3,634.3 L708.9,643.7 L709.5,638.2 L710.1,638.4 L710.7,637.4 L711.3,644.7 L711.9,640.8 L712.5,638.1 L713.1,638.8 L713.7,639.2 L714.3,639.0 L714.9,641.0 L715.5,646.2 L716.1,633.3 L716.7,643.4 L717.3,643.5 L717.9,638.0 L718.5,647.5 L719.1,644.2 L719.7,642.1 L720.3,636.3 L720.9,640.3 L721.5,642.7 L722.1,641.1 L722.7,634.9 L723.3,643.0 L723.9,640.4 L724.5,638.8 L725.1,640.1 L725.7,636.9 L726.3,640.4 L726.9,634.2 L727.5,648.7 L728.1,638.1 L728.7,640.7 L729.3,640.6 L729.9,641.9 L730.5,641.2 L731.1,646.5 L731.7,639.9 L732.3,649.9 L732.9,642.2 L733.5,650.2 L734.1,642.1 L734.7,638.3 L735.3,646.5 L735.9,640.5 L736.5,645.6 L737.1,647.9 L737.7,641.8 L738.3,643.0 L738.9,644.8 L739.5,648.3 L740.1,648.1 L740.7,644.6 L741.3,645.0 L741.9,647.2 L742.5,641.3 L743.1,650.0 L743.7,648.1 L744.3,642.4 L744.9,645.3 L745.5,646.1 L746.1,645.3 L746.7,639.0 L747.3,638.6 L747.9,642.1 L748.5,640.0 L749.1,644.1 L749.7,646.0 L750.3,644.6 L750.9,648.7 L751.5,644.0 L752.1,643.8 L752.7,640.3 L753.3,650.5 L753.9,645.3 L754.5,651.3 L755.1,649.9 L755.7,639.5 L756.3,645.1 L756.9,644.5 L757.5,646.6 L758.1,638.1 L758.7,645.9 L759.3,645.6 L759.9,644.2 L760.5,641.3 L761.1,646.4 L761.7,638.8 L762.3,644.3 L762.9,638.3 L763.5,644.2 L764.1,643.7 L764.7,646.5 L765.3,647.1 L765.9,647.4 L766.5,645.4 L767.1,647.9 L767.7,647.0 L768.3,646.1 L768.9,648.1 L769.5,653.0 L770.1,645.7 L770.7,652.9 L771.3,646.5 L771.9,645.0 L772.5,645.6 L773.1,646.7 L773.7,644.4 L774.3,650.7 L774.9,644.9 L775.5,646.3 L776.1,649.0 L776.7,648.4 L777.3,646.6 L777.9,646.9 L778.5,647.4 L779.1,645.9 L779.7,644.9 L780.3,649.9 L780.9,642.7 L781.5,642.5 L782.1,645.3 L782.7,644.9 L783.3,654.5 L783.9,647.9 L784.5,652.2 L785.1,648.8 L785.7,646.6 L786.3,653.1 L786.9,653.6 L787.5,646.2 L788.1,652.5 L788.7,651.2 L789.3,648.3 L789.9,650.5 L790.5,653.7 L791.1,649.6 L791.7,653.3 L792.3,653.2 L792.9,653.5 L793.5,650.8 L794.1,656.6 L794.7,654.2 L795.3,655.4 L795.9,655.1 L796.5,653.3 L797.1,656.5 L797.7,654.3 L798.3,660.2 L798.9,655.0 L799.5,652.9 L800.1,655.5 L800.7,655.2 L801.3,662.5 L801.9,654.9 L802.5,660.6 L803.1,649.5 L803.7,653.3 L804.3,655.7 L804.9,659.2 L805.5,658.3 L806.1,657.5 L806.7,657.7 L807.3,661.6 L807.9,656.5 L808.5,661.4 L809.1,658.5 L809.7,660.9 L810.3,662.6 L810.9,659.7 L811.5,657.8 L812.1,658.6 L812.7,659.0 L813.3,656.7 L813.9,661.0 L814.5,662.6 L815.1,661.3 L815.7,668.9 L816.3,668.3 L816.9,665.0 L817.5,665.4 L818.1,661.9 L818.7,665.4 L819.3,657.5 L819.9,656.8 L820.5,658.6 L821.1,663.0 L821.7,666.1 L822.3,657.6 L822.9,664.1 L823.5,665.6 L824.1,668.5 L824.7,665.8 L825.3,663.8 L825.9,661.1 L826.5,666.1 L827.1,668.9 L827.7,669.4 L828.3,667.4 L828.9,664.2 L829.5,662.0 L830.1,661.1 L830.7,666.1 L831.3,668.3 L831.9,665.2 L832.5,669.5 L833.1,667.9 L833.7,671.9 L834.3,670.1 L834.9,672.3 L835.5,668.8 L836.1,671.4 L836.7,675.3 L837.3,664.7 L837.9,677.4 L838.5,673.0 L839.1,679.7 L839.7,671.6 L840.3,673.4 L840.9,675.1 L841.5,674.8 L842.1,675.3 L842.7,678.4 L843.3,672.3 L843.9,677.2 L844.5,675.8 L845.1,681.1 L845.7,682.9 L846.3,676.9 L846.9,676.7 L847.5,682.3 L848.1,684.1 L848.7,680.9 L849.3,683.6 L849.9,685.6 L850.5,679.9 L851.1,679.5 L851.7,675.0 L852.3,680.8 L852.9,679.3 L853.5,683.5 L854.1,683.0 L854.7,688.2 L855.3,684.4 L855.9,681.7 L856.5,683.1 L857.1,684.3 L857.7,685.0 L858.3,690.8 L858.9,686.5 L859.5,685.0 L860.1,685.0 L860.7,687.4 L861.3,682.8 L861.9,687.7 L862.5,692.5 L863.1,693.6 L863.7,689.6 L864.3,690.0 L864.9,689.1 L865.5,691.1 L866.1,690.8 L866.7,692.4 L867.3,698.2 L867.9,694.3 L868.5,689.5 L869.1,690.5 L869.7,695.0 L870.3,701.0 L870.9,695.3 L871.5,698.1 L872.1,694.0 L872.7,694.1 L873.3,703.3 L873.9,700.6 L874.5,697.1 L875.1,700.4 L875.7,699.2 L876.3,700.9 L876.9,699.7 L877.5,700.8 L878.1,705.7 L878.7,700.2 L879.3,702.7 L879.9,708.0 L880.5,695.4 L881.1,700.6 L881.7,701.9 L882.3,703.7 L882.9,703.5 L883.5,709.8 L884.1,702.2 L884.7,704.0 L885.3,700.9 L885.9,703.6 L886.5,707.4 L887.1,701.5 L887.7,713.5 L888.3,710.4 L888.9,704.4 L889.5,711.8 L890.1,706.5 L890.7,710.7 L891.3,709.0 L891.9,709.0 L892.5,712.4 L893.1,716.6 L893.7,708.7 L894.3,711.6 L894.9,714.3 L895.5,721.2 L896.1,714.6 L896.7,719.5 L897.3,717.0 L897.9,717.2 L898.5,720.1 L899.1,716.5 L899.7,719.8 L900.3,713.6 L900.9,721.0 L901.5,728.1 L902.1,717.0 L902.7,718.4 L903.3,723.5 L903.9,728.8 L904.5,724.6 L905.1,731.4 L905.7,724.3 L906.3,732.6 L906.9,724.4 L907.5,729.1 L908.1,726.7 L908.7,731.1 L909.3,722.2 L909.9,728.2 L910.5,734.6 L911.1,732.1 L911.7,730.4 L912.3,730.1 L912.9,736.7 L913.5,729.0 L914.1,729.3 L914.7,726.8 L915.3,733.5 L915.9,737.2 L916.5,729.7 L917.1,735.3 L917.7,735.7 L918.3,731.8 L918.9,734.5 L919.5,735.1 L920.1,729.6 L920.7,741.3 L921.3,733.0 L921.9,733.8 L922.5,738.8 L923.1,738.1 L923.7,740.8 L924.3,740.2 L924.9,735.7 L925.5,740.2 L926.1,747.6 L926.7,740.5 L927.3,739.8 L927.9,746.6 L928.5,739.0 L929.1,743.6 L929.7,751.2 L930.3,748.4 L930.9,742.2 L931.5,741.5 L932.1,746.2 L932.7,747.8 L933.3,749.4 L933.9,745.0 L934.5,747.3 L935.1,747.7 L935.7,746.6 L936.3,748.9 L936.9,747.8 L937.5,747.0 L938.1,749.3 L938.7,746.0 L939.3,747.7 L939.9,749.1 L940.5,746.0 L941.1,740.4 L941.7,740.4 L942.3,748.9 L942.9,749.2 L943.5,748.0 L944.1,740.1 L944.7,744.9 L945.3,752.1 L945.9,746.7 L946.5,746.0 L947.1,752.7 L947.7,752.7 L948.3,744.5 L948.9,747.6 L949.5,748.5 L950.1,748.9 L950.7,749.7 L951.3,746.6 L951.9,739.4 L952.5,742.5 L953.1,740.9 L953.7,743.5 L954.3,742.4 L954.9,748.0 L955.5,739.6 L956.1,738.0 L956.7,734.9 L957.3,739.0 L957.9,745.1 L958.5,741.8 L959.1,739.4 L959.7,741.4 L960.3,741.6 L960.9,739.1 L961.5,733.1 L962.1,740.2 L962.7,738.7 L963.3,733.2 L963.9,737.1 L964.5,733.4 L965.1,735.5 L965.7,737.1 L966.3,735.8 L966.9,733.8 L967.5,736.4 L968.1,732.5 L968.7,734.7 L969.3,732.1 L969.9,733.8 L970.5,732.7 L971.1,732.0 L971.7,733.5 L972.3,732.2 L972.9,735.4 L973.5,726.1 L974.1,733.7 L974.7,727.4 L975.3,722.7 L975.9,718.7 L976.5,722.7 L977.1,723.7 L977.7,724.1 L978.3,726.4 L978.9,724.9 L979.5,726.0 L980.1,724.2 L980.7,723.0 L981.3,725.0 L981.9,719.1 L982.5,713.3 L983.1,715.5 L983.7,713.7 L984.3,713.9 L984.9,710.3 L985.5,716.0 L986.1,709.7 L986.7,710.6 L987.3,707.9 L987.9,714.8 L988.5,714.0 L989.1,715.6 L989.7,707.6 L990.3,708.1 L990.9,712.7 L991.5,711.2 L992.1,703.3 L992.7,706.1 L993.3,700.1 L993.9,707.5 L994.5,706.9 L995.1,708.7 L995.7,705.7 L996.3,702.6 L996.9,702.0 L997.5,703.4 L998.1,701.8 L998.7,708.3 L999.3,701.6 L999.9,701.3 L1000.5,706.9 L1001.1,697.6 L1001.7,696.9 L1002.3,692.0 L1002.9,700.2 L1003.5,694.3 L1004.1,692.6 L1004.7,695.4 L1005.3,695.1 L1005.9,688.1 L1006.5,686.4 L1007.1,692.9 L1007.7,694.9 L1008.3,688.6 L1008.9,689.4 L1009.5,681.0 L1010.1,686.9 L1010.7,682.2 L1011.3,683.2 L1011.9,680.8 L1012.5,686.2 L1013.1,686.2 L1013.7,685.1 L1014.3,686.7 L1014.9,680.6 L1015.5,682.5 L1016.1,681.2 L1016.7,683.1 L1017.3,684.5 L1017.9,679.1 L1018.5,685.0 L1019.1,679.4 L1019.7,677.4 L1020.3,677.3 L1020.9,680.3 L1021.5,671.4 L1022.1,676.8 L1022.7,675.3 L1023.3,676.2 L1023.9,674.8 L1024.5,670.6 L1025.1,671.3 L1025.7,680.0 L1026.3,673.3 L1026.9,676.9 L1027.5,677.7 L1028.1,671.8 L1028.7,675.0 L1029.3,669.6 L1029.9,668.1 L1030.5,671.2 L1031.1,667.2 L1031.7,666.0 L1032.3,666.9 L1032.9,665.9 L1033.5,672.1 L1034.1,669.6 L1034.7,666.9 L1035.3,669.0 L1035.9,663.2 L1036.5,663.0 L1037.1,663.5 L1037.7,664.7 L1038.3,657.4 L1038.9,659.6 L1039.5,661.7 L1040.1,659.0 L1040.7,661.2 L1041.3,658.7 L1041.9,661.1 L1042.5,661.8 L1043.1,662.1 L1043.7,663.9 L1044.3,660.0 L1044.9,660.4 L1045.5,664.1 L1046.1,654.1 L1046.7,660.4 L1047.3,656.5 L1047.9,653.4 L1048.5,663.2 L1049.1,660.3 L1049.7,658.9 L1050.3,661.3 L1050.9,664.8 L1051.5,659.0 L1052.1,658.2 L1052.7,651.9 L1053.3,663.8 L1053.9,660.0 L1054.5,654.0 L1055.1,657.5 L1055.7,655.9 L1056.3,663.0 L1056.9,656.1 L1057.5,654.1 L1058.1,661.0 L1058.7,655.7 L1059.3,653.4 L1059.9,651.5 L1060.5,653.8 L1061.1,656.0 L1061.7,654.6 L1062.3,657.0 L1062.9,659.2 L1063.5,653.2 L1064.1,650.4 L1064.7,656.9 L1065.3,656.2 L1065.9,657.9 L1066.5,652.9 L1067.1,656.3 L1067.7,654.5 L1068.3,653.8 L1068.9,654.9 L1069.5,657.1 L1070.1,656.7 L1070.7,656.9 L1071.3,654.3 L1071.9,655.1 L1072.5,653.8 L1073.1,654.1 L1073.7,656.8 L1074.3,653.0 L1074.9,657.7 L1075.5,658.8 L1076.1,654.9 L1076.7,655.4 L1077.3,658.7 L1077.9,655.9 L1078.5,656.3 L1079.1,656.0 L1079.7,651.8 L1080.3,656.0 L1080.9,655.5 L1081.5,654.1 L1082.1,651.1 L1082.7,654.0 L1083.3,654.5 L1083.9,653.8 L1084.5,654.4 L1085.1,653.7 L1085.7,654.7 L1086.3,656.9 L1086.9,650.0 L1087.5,654.1 L1088.1,655.0 L1088.7,649.7 L1089.3,653.3 L1089.9,654.7 L1090.5,653.9 L1091.1,652.7 L1091.7,652.5 L1092.3,649.1 L1092.9,652.8 L1093.5,654.3 L1094.1,654.2 L1094.7,653.5 L1095.3,652.7 L1095.9,651.8 L1096.5,652.1 L1097.1,651.4 L1097.7,652.5 L1098.3,649.3 L1098.9,653.1 L1099.5,654.6 L1100.1,652.8 L1100.7,655.4 L1101.3,653.8 L1101.9,655.0 L1102.5,657.8 L1103.1,651.5 L1103.7,653.7 L1104.3,652.4 L1104.9,652.2 L1105.5,655.2 L1106.1,650.3 L1106.7,654.8 L1107.3,657.3 L1107.9,654.4 L1108.5,655.5 L1109.1,652.7 L1109.7,655.9 L1110.3,656.1 L1110.9,655.2 L1111.5,657.7 L1112.1,655.1 L1112.7,655.3 L1113.3,650.8 L1113.9,656.6 L1114.5,654.4 L1115.1,655.8 L1115.7,655.1 L1116.3,653.2 L1116.9,655.1 L1117.5,658.4 L1118.1,655.8 L1118.7,652.8 L1119.3,655.4 L1119.9,657.9 L1120.5,651.1 L1121.1,651.1 L1121.7,657.0 L1122.3,655.7 L1122.9,656.5 L1123.5,654.7 L1124.1,655.6 L1124.7,653.5 L1125.3,653.1 L1125.9,655.7" stroke="#00f" stroke-width="4.3" fill="none" stroke-linejoin="round" stroke-linecap="round"/>
<text transform="translate(119.64,57.20) scale(0.928,1)" font-size="37.3">0,6</text>
<text transform="translate(119.47,155.09) scale(0.928,1)" font-size="37.3">0,5</text>
<text transform="translate(119.12,252.98) scale(0.928,1)" font-size="37.3">0,4</text>
<text transform="translate(119.64,350.86) scale(0.928,1)" font-size="37.3">0,3</text>
<text transform="translate(119.82,448.75) scale(0.928,1)" font-size="37.3">0,2</text>
<text transform="translate(119.82,546.64) scale(0.928,1)" font-size="37.3">0,1</text>
<text transform="translate(119.47,644.53) scale(0.928,1)" font-size="37.3">0,0</text>
<text transform="translate(108.22,742.41) scale(0.928,1)" font-size="37.3">-0,1</text>
<text transform="translate(108.22,840.30) scale(0.928,1)" font-size="37.3">-0,2</text>
<text transform="translate(163.56,885.30) scale(0.928,1)" font-size="37.3">460</text>
<text transform="translate(301.77,885.30) scale(0.928,1)" font-size="37.3">470</text>
<text transform="translate(439.99,885.30) scale(0.928,1)" font-size="37.3">480</text>
<text transform="translate(578.20,885.30) scale(0.928,1)" font-size="37.3">490</text>
<text transform="translate(716.15,885.30) scale(0.928,1)" font-size="37.3">500</text>
<text transform="translate(854.37,885.30) scale(0.928,1)" font-size="37.3">510</text>
<text transform="translate(992.58,885.30) scale(0.928,1)" font-size="37.3">520</text>
<text transform="translate(1130.80,885.30) scale(0.928,1)" font-size="37.3">530</text>
<text transform="translate(452.20,968.00) scale(0.9,1)" font-size="66">Wavelength (nm)</text>
<text transform="translate(71.70,568.44) rotate(-90) scale(0.856,1)" font-size="67.7">D</text>
<text transform="translate(71.70,524.13) rotate(-90) scale(1.0,1)" font-size="67.7">,</text>
<path d="M71.7,483.7 L31.9,467.7 L71.7,453.2 Z M69.5,481 L69.5,458.7 L41.7,469.3 Z" fill="#000" fill-rule="evenodd"/>
<text transform="translate(71.70,447.64) rotate(-90) scale(0.856,1)" font-size="67.7">D</text>
<rect x="892" y="81.7" width="220.7" height="66" fill="#000"/>
<rect x="881.5" y="70" width="220" height="66" fill="#fff" stroke="#000" stroke-width="1.6"/>
<text transform="translate(893.61,123.50) scale(0.871,1)" font-size="57">sample 3</text>
<text transform="translate(976.70,320.60) scale(0.881,1)" font-size="56.7">D</text>
<text transform="translate(1013.05,341.80) scale(0.863,1)" font-size="33.4">0</text>
<text transform="translate(876.99,492.20) scale(0.877,1)" font-size="57.1">D</text>
<text transform="translate(693.71,609.90) scale(0.86,1)" font-size="56.5">D</text>
<path d="M667.2,609.8 L680.7,577.8 L693.1,609.8 Z M669.7,607.7 L688.8,607.7 L679.6,584.9 Z" fill="#000" fill-rule="evenodd"/>
</svg>
<div class="bar" style="top:1010px;height:1px;background:#ececec"></div>
<div class="bar" style="top:1011px;height:1px;background:#a9a9a9"></div>
</body></html>
